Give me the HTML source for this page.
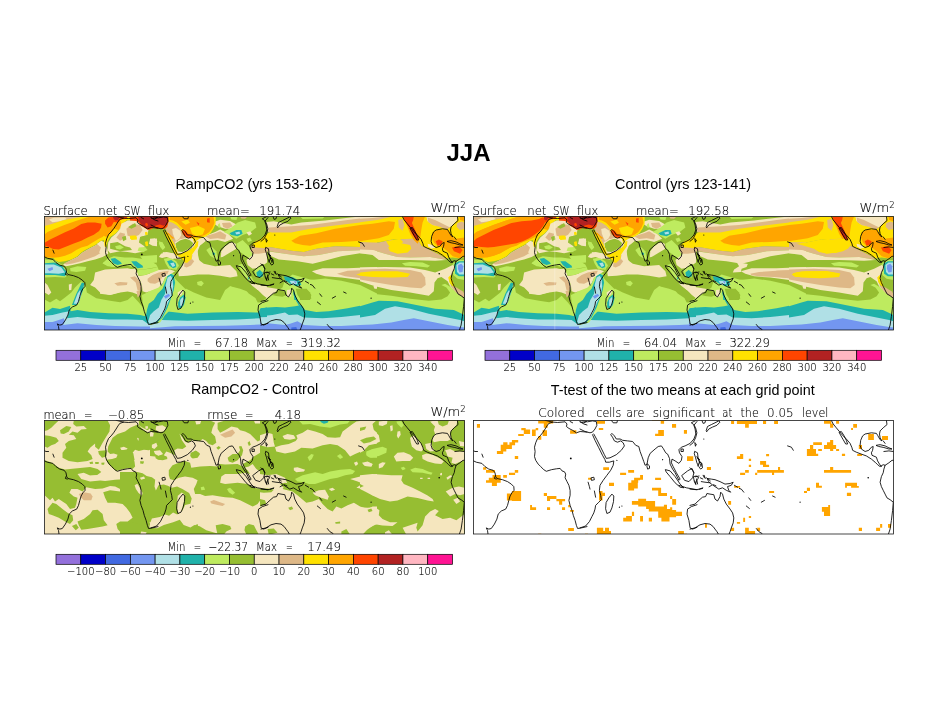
<!DOCTYPE html>
<html><head><meta charset="utf-8"><title>JJA</title>
<style>
html,body{margin:0;padding:0;background:#fff;}
body{width:935px;height:723px;overflow:hidden;position:relative;}
svg{position:absolute;left:0;top:0;}
text{font-family:"Liberation Sans",Arial,Helvetica,sans-serif;fill:#000;}
.hl{font-family:"DejaVu Sans Light","DejaVu Sans","Liberation Sans",sans-serif;font-weight:200;font-size:10px;fill:#000;stroke:#000;stroke-width:0.12px;}
.t{font-size:14.4px;}
.big{font-size:24px;font-weight:bold;}
</style></head><body>
<svg width="935" height="723" viewBox="0 0 935 723">
<rect width="935" height="723" fill="#fff"/>

<text class="big" x="468.5" y="161.3" text-anchor="middle">JJA</text>
<text class="t" x="254.2" y="189.3" text-anchor="middle">RampCO2 (yrs 153-162)</text>
<text class="t" x="683" y="189.3" text-anchor="middle">Control (yrs 123-141)</text>
<text class="t" x="254.5" y="393.5" text-anchor="middle">RampCO2 - Control</text>
<text class="t" x="682.8" y="395.2" text-anchor="middle">T-test of the two means at each grid point</text>
<g id="map1"><clipPath id="c1"><rect x="44.5" y="216.5" width="420" height="113.5"/></clipPath><g clip-path="url(#c1)"><rect x="44.5" y="216.5" width="420" height="113.5" fill="#96be32"/><path fill="#beeb5f" d="M44.6 299.4L50.0 302.6L56.3 298.8L60.0 301.3L65.0 297.6L71.3 292.6L75.0 287.5L81.3 281.3L85.7 285.7L86.9 292.6L96.3 298.2L110.1 300.7L120.1 302.3L127.6 300.1L132.6 295.7L138.9 302.6L143.9 308.8L146.4 305.1L150.1 301.9L150.1 330.7L44.6 330.7Z"/>
<path fill="#20b2aa" d="M44.6 312.6L52.5 307.8L60.0 309.1L70.0 305.7L70.7 311.3L77.5 310.1L90.1 312.0L108.8 313.2L127.6 313.8L140.1 315.1L145.1 316.3L146.4 307.6L150.1 302.6L150.1 330.7L44.6 330.7Z"/>
<path fill="#b0e0e6" d="M44.6 315.7L52.5 315.1L62.5 312.6L69.4 311.3L66.9 318.2L77.5 317.0L90.1 318.2L108.8 319.5L127.6 319.5L142.6 320.1L147.9 323.8L148.9 312.6L150.1 311.3L150.1 330.7L44.6 330.7Z"/>
<path fill="#7396f0" d="M44.6 322.0L52.5 322.0L58.8 320.1L63.8 318.2L65.0 321.3L63.2 325.1L77.5 323.2L96.3 325.1L115.1 326.1L140.1 326.6L150.1 326.6L150.1 330.7L44.6 330.7Z"/>
<path fill="#beeb5f" d="M150.0 288.8L157.5 287.5L162.5 281.3L168.8 272.5L173.8 273.8L176.3 282.5L179.4 290.1L186.3 288.8L193.8 292.6L206.3 297.6L220.1 300.1L227.6 300.1L225.1 292.6L230.1 286.3L240.1 288.8L250.1 292.6L260.1 298.8L260.1 330.7L150.0 330.7Z"/>
<path fill="#20b2aa" d="M150.0 300.1L155.0 292.6L160.0 287.5L165.0 278.8L170.0 273.8L173.8 275.0L174.4 281.3L172.5 291.3L168.8 298.8L166.3 306.3L165.6 311.3L187.5 313.8L212.6 312.6L237.6 312.0L258.9 312.6L260.1 308.8L260.1 330.7L150.0 330.7Z"/>
<path fill="#b0e0e6" d="M150.0 308.8L156.3 303.8L161.3 296.3L165.0 287.5L166.9 278.8L170.7 276.3L173.2 280.0L172.5 287.5L170.0 297.6L166.3 303.8L163.8 312.6L161.3 320.1L187.5 320.7L212.6 320.1L237.6 319.5L260.1 318.2L260.1 330.7L150.0 330.7Z"/>
<path fill="#7396f0" d="M150.0 328.2L162.5 327.3L175.0 326.3L200.1 326.1L225.1 325.7L250.1 325.1L260.1 324.5L260.1 330.7L150.0 330.7Z"/>
<path fill="#beeb5f" d="M260.0 300.1L266.3 297.6L272.5 293.8L278.8 290.1L282.5 287.5L285.0 280.0L292.5 274.4L301.3 276.9L310.1 279.4L325.1 281.3L341.4 283.2L360.1 287.5L360.1 330.7L260.0 330.7Z"/>
<path fill="#20b2aa" d="M260.0 308.8L267.5 307.6L276.3 306.9L285.0 307.6L295.0 306.3L301.3 305.1L305.1 310.1L316.3 312.0L328.8 311.3L347.6 308.2L360.1 305.7L360.1 330.7L260.0 330.7Z"/>
<path fill="#b0e0e6" d="M260.0 316.3L272.5 315.1L285.0 312.6L288.8 315.1L297.5 314.5L303.8 317.6L322.6 318.2L341.4 317.0L360.1 315.1L360.1 330.7L260.0 330.7Z"/>
<path fill="#7396f0" d="M260.0 322.6L272.5 323.8L285.0 325.1L290.0 323.8L297.5 321.3L303.8 325.1L322.6 326.1L341.4 326.1L360.1 325.1L360.1 330.7L260.0 330.7Z"/>
<path fill="#beeb5f" d="M360.0 291.9L372.5 293.8L391.3 295.7L410.1 298.8L428.8 300.7L441.4 299.4L447.6 296.3L450.1 292.6L446.4 287.5L441.4 285.0L445.1 283.8L451.4 287.5L457.6 293.8L464.5 298.8L464.5 330.7L360.0 330.7Z"/>
<path fill="#20b2aa" d="M360.0 306.3L372.5 302.6L378.8 300.7L397.5 301.3L416.3 305.1L435.1 308.8L453.9 310.1L464.5 315.1L464.5 330.7L360.0 330.7Z"/>
<path fill="#b0e0e6" d="M360.0 317.6L375.0 315.1L385.0 308.8L395.0 306.3L410.1 308.8L428.8 313.8L447.6 317.6L460.1 320.1L464.5 321.3L464.5 330.7L360.0 330.7Z"/>
<path fill="#7396f0" d="M360.0 325.1L372.5 324.5L391.3 322.6L403.8 320.1L413.8 318.2L428.8 321.3L447.6 325.1L460.1 327.0L464.5 327.6L464.5 330.7L360.0 330.7Z"/>
<path fill="#deb887" d="M44.6 216.5L92.6 216.5L77.5 221.3L58.8 226.3L44.6 230.0Z"/>
<path fill="#f5e6be" d="M48.8 219.4L53.8 217.8L65.0 217.5L66.9 219.0L60.0 221.3L52.5 222.3Z"/>
<path fill="#f5e6be" d="M62.5 265.1L71.3 260.1L77.5 256.9L82.6 252.6L90.1 248.2L96.3 245.0L101.3 240.7L105.1 242.5L107.6 250.1L108.2 253.8L102.6 256.9L95.1 259.4L87.6 261.3L80.1 263.2L72.5 265.1L66.3 266.3Z"/>
<path fill="#deb887" d="M63.8 263.6L71.3 260.1L77.5 256.9L82.6 252.6L90.1 248.2L96.3 245.0L101.3 241.3L102.6 247.5L101.3 252.6L95.1 256.3L87.6 259.1L80.1 261.6L72.5 263.6L66.3 264.6Z"/>
<path fill="#f5e6be" d="M96.9 243.8L101.6 240.7L104.8 246.3L106.1 251.9L102.6 254.8L99.1 252.6L101.0 247.5Z"/>
<path fill="#ffe100" d="M44.6 226.0L52.5 223.8L62.5 220.6L72.5 218.5L81.3 216.9L90.1 216.5L138.9 216.5L138.9 219.4L132.6 219.4L126.4 220.6L122.6 223.8L120.1 228.8L115.1 233.8L110.1 236.9L107.6 241.3L106.0 247.5L104.5 246.3L103.8 240.0L100.1 241.3L95.1 245.0L90.1 247.5L85.1 250.1L81.3 252.6L77.5 256.3L71.3 259.4L65.0 261.3L58.8 261.9L55.0 260.1L53.8 258.2L44.6 257.6Z"/>
<path fill="#ffa500" d="M44.6 234.4L47.5 231.9L55.0 228.8L65.0 224.8L75.0 221.3L82.6 218.8L90.1 216.5L115.1 216.5L120.1 220.0L121.4 225.0L118.8 230.0L113.8 228.8L112.0 231.9L108.8 235.0L106.3 236.9L103.8 235.7L102.6 236.9L98.8 238.8L92.6 242.5L87.6 245.7L81.3 247.5L76.3 250.1L71.3 253.2L65.0 255.7L58.8 257.3L52.5 257.8L44.6 256.9Z"/>
<path fill="#ff4500" d="M44.6 242.8L50.0 239.4L56.3 236.5L65.0 232.3L73.8 228.5L81.3 224.1L87.6 222.6L95.1 222.6L101.6 223.8L101.1 227.5L99.1 231.0L93.8 234.8L87.6 237.5L81.3 240.7L73.8 243.5L66.3 246.5L58.8 249.4L53.1 249.0L48.8 246.9L44.6 245.7Z"/>
<path fill="#ff4500" d="M105.1 220.6L108.2 217.5L115.1 216.5L127.6 216.5L126.4 218.8L120.1 219.8L117.6 222.5L113.8 221.9L111.3 226.3L107.6 227.5L105.1 223.8Z"/>
<path fill="#b22222" d="M113.2 216.5L120.1 216.5L118.2 220.0L115.1 220.6L113.2 218.1Z"/>
<path fill="#ff4500" d="M136.4 216.5L157.0 216.5L157.0 226.3L152.6 226.9L148.9 229.0L145.8 228.8L142.0 225.0L139.5 221.9L137.6 218.8Z"/>
<path fill="#b22222" d="M138.9 216.5L157.0 216.5L157.0 224.8L152.6 225.3L148.9 227.8L146.4 228.1L142.9 224.8L140.4 221.5L138.6 218.5Z"/>
<path fill="#ff4500" d="M144.5 224.0L147.0 222.5L148.9 225.0L147.0 226.9L145.1 226.3Z"/>
<path fill="#f5e6be" d="M121.4 223.8L127.6 220.6L138.9 220.0L143.9 226.9L148.9 229.4L147.6 235.0L140.1 236.9L138.9 242.5L144.5 246.3L144.5 251.3L135.1 253.2L127.6 251.9L120.1 251.3L110.1 253.2L107.6 250.1L108.2 242.5L111.3 237.5L116.3 233.2L120.1 228.8Z"/>
<path fill="#deb887" d="M126.4 228.8L132.6 223.8L140.1 225.0L142.6 230.0L138.9 235.0L133.9 236.9L127.6 235.7Z"/>
<path fill="#deb887" d="M120.1 232.5L125.1 233.8L123.9 238.8L120.1 240.7L116.3 237.5Z"/>
<path fill="#ffe100" d="M129.5 235.7L136.4 235.7L137.0 239.4L131.4 240.0Z"/>
<path fill="#ffe100" d="M145.1 232.5L147.6 232.5L147.4 235.0L145.4 234.8Z"/>
<path fill="#ffe100" d="M144.9 241.9L147.4 241.3L147.9 245.7L145.8 246.0Z"/>
<path fill="#96be32" d="M122.0 236.9L125.7 235.7L126.4 239.4L123.2 241.3Z"/>
<path fill="#96be32" d="M128.2 226.9L135.1 223.1L136.4 226.3L131.4 228.8Z"/>
<path fill="#96be32" d="M110.1 243.2L117.6 241.9L125.1 246.3L130.1 247.5L132.0 250.1L120.1 251.3L110.1 248.8Z"/>
<path fill="#beeb5f" d="M115.1 246.3L120.1 245.0L123.9 247.5L120.1 249.4L116.3 248.8Z"/>
<path fill="#96be32" d="M148.9 228.8L157.0 226.3L157.0 240.0L152.6 239.4L147.6 240.7L140.1 240.0L140.1 236.9L147.6 235.0Z"/>
<path fill="#f5e6be" d="M150.1 239.4L157.0 238.5L157.0 246.3L152.6 245.7L148.9 243.8Z"/>
<path fill="#beeb5f" d="M138.9 247.5L145.1 246.9L147.6 250.1L142.6 251.9L137.6 250.7Z"/>
<path fill="#beeb5f" d="M102.6 263.2L110.1 258.8L115.1 260.1L120.1 265.1L115.1 266.9L107.6 266.3Z"/>
<path fill="#20b2aa" d="M110.7 258.2L121.4 262.6L120.1 265.1L115.1 266.3L112.0 262.6Z"/>
<path fill="#20b2aa" d="M132.0 260.7L136.4 261.3L143.3 265.7L140.1 268.8L136.4 267.6Z"/>
<path fill="#beeb5f" d="M140.1 256.3L157.0 255.1L157.0 262.6L150.1 263.2L143.9 261.3Z"/>
<path fill="#f5e6be" d="M95.1 272.6L105.1 269.4L117.6 268.8L127.6 268.2L135.1 270.1L137.0 275.1L138.9 280.1L140.1 287.6L138.9 295.1L132.6 292.6L127.6 291.4L120.1 292.6L110.1 295.1L100.1 292.6L95.1 287.6L90.1 285.1L93.8 280.1Z"/>
<path fill="#deb887" d="M113.8 283.8L120.1 282.0L127.6 282.6L126.4 285.1L117.6 286.1Z"/>
<path fill="#deb887" d="M130.1 277.6L135.1 276.3L137.6 280.1L138.9 287.6L140.1 295.1L137.6 297.6L136.4 290.1L133.9 282.6Z"/>
<path fill="#f5e6be" d="M147.6 280.1L152.6 272.6L157.0 271.3L157.0 285.1L150.1 285.1Z"/>
<path fill="#deb887" d="M148.9 278.8L155.1 275.1L157.0 277.6L152.6 282.6Z"/>
<path fill="#beeb5f" d="M143.9 296.4L150.1 290.1L157.0 286.3L157.0 300.0L143.9 300.0Z"/>
<path fill="#beeb5f" d="M44.6 259.4L53.8 260.1L62.5 265.1L66.9 270.1L68.5 274.5L65.0 277.6L55.0 277.0L44.6 277.6Z"/>
<path fill="#20b2aa" d="M44.6 263.2L55.0 262.6L62.5 266.3L66.9 272.6L65.0 276.3L55.0 275.1L44.6 275.1Z"/>
<path fill="#b0e0e6" d="M44.6 264.4L53.8 264.4L61.3 267.6L65.0 272.6L58.8 273.8L50.0 273.2L44.6 273.2Z"/>
<path fill="#7396f0" d="M47.5 268.8L52.5 266.9L53.1 269.4L49.4 271.3Z"/>
<path fill="#beeb5f" d="M70.0 268.2L77.5 266.3L86.3 266.9L85.1 270.7L76.3 272.0L70.7 271.3Z"/>
<path fill="#f5e6be" d="M44.6 282.6L47.5 285.1L51.3 292.6L48.8 295.1L44.6 292.6Z"/>
<path fill="#ff4500" d="M150.0 216.5L168.8 216.5L168.8 220.0L165.6 224.4L161.9 228.1L156.9 228.8L150.0 226.3Z"/>
<path fill="#b22222" d="M150.0 216.5L165.0 216.5L167.5 218.8L165.0 222.5L161.3 226.3L157.5 227.5L153.8 225.6L150.0 225.0Z"/>
<path fill="#deb887" d="M168.8 220.6L175.0 221.3L180.0 225.6L183.2 230.7L181.9 235.0L176.9 237.8L172.5 235.0L168.8 228.8L166.3 225.0Z"/>
<path fill="#f5e6be" d="M173.8 225.6L178.8 226.9L181.3 231.3L180.0 235.0L176.9 236.3L174.4 232.5L172.5 228.8Z"/>
<path fill="#ffe100" d="M168.8 216.5L215.1 216.5L215.7 223.8L212.6 228.8L208.2 232.5L203.8 236.3L198.2 238.2L191.3 238.2L185.0 235.7L181.3 230.7L178.8 225.6L175.0 221.9L168.8 220.0Z"/>
<path fill="#ffa500" d="M168.8 216.5L213.8 216.5L214.5 222.5L211.3 227.5L206.3 230.7L202.6 234.4L197.6 236.5L191.3 236.5L186.5 234.8L182.8 230.0L180.3 225.0L175.7 221.0L170.0 219.4Z"/>
<path fill="#ffe100" d="M186.3 218.8L192.6 217.5L193.8 222.5L188.8 223.8Z"/>
<path fill="#ffe100" d="M190.1 228.8L200.1 226.3L203.8 230.0L200.1 235.0L192.6 235.0Z"/>
<path fill="#ff4500" d="M206.9 218.1L210.1 217.5L209.4 222.5L206.9 221.9Z"/>
<path fill="#ff4500" d="M196.1 221.9L199.1 223.8L197.8 225.3Z"/>
<path fill="#ff4500" d="M182.8 230.0L185.7 231.9L188.8 235.0L192.6 236.9L191.3 238.2L186.3 236.9L183.2 233.8Z"/>
<path fill="#f5e6be" d="M172.5 236.9L182.5 235.0L192.6 238.2L194.4 241.3L192.6 246.3L186.3 251.3L178.2 253.2L174.4 246.3Z"/>
<path fill="#96be32" d="M176.9 241.3L185.0 238.8L190.1 241.3L190.7 246.3L185.0 250.1L178.8 251.3L175.7 246.3Z"/>
<path fill="#ffe100" d="M164.4 230.7L167.5 231.9L171.9 240.0L175.0 247.5L178.2 253.8L186.3 252.6L192.6 246.3L195.1 240.0L193.8 238.2L191.3 243.8L186.3 250.1L180.0 253.2L176.9 252.6L174.4 246.3L171.3 238.8L168.1 233.2Z"/>
<path fill="#ffa500" d="M166.3 232.5L170.7 239.4L173.2 240.7L170.0 235.0Z"/>
<path fill="#f5e6be" d="M193.8 241.3L202.6 238.2L206.3 240.0L200.1 245.0L197.6 251.3L198.8 260.1L203.8 263.8L215.1 266.3L230.1 265.1L236.4 271.3L237.6 276.3L230.1 277.6L220.1 275.7L208.8 274.5L197.6 274.5L187.5 275.7L178.8 276.3L178.2 272.6L182.5 265.1L185.0 260.1L190.1 256.3L193.2 247.5Z"/>
<path fill="#deb887" d="M186.3 262.6L191.3 256.3L196.3 251.3L198.2 260.1L192.6 263.8L187.5 265.1Z"/>
<path fill="#ffe100" d="M176.9 253.8L186.3 252.6L190.1 256.3L187.5 260.1L185.0 263.8L183.2 260.1L180.0 257.6Z"/>
<path fill="#f5e6be" d="M202.6 236.9L215.1 231.9L220.1 229.4L227.6 233.2L233.2 238.8L225.1 241.9L217.6 240.0L210.1 240.7L206.3 241.3Z"/>
<path fill="#deb887" d="M205.1 236.3L215.1 233.2L220.1 231.3L226.3 235.0L225.1 239.4L217.6 238.2L210.1 239.0Z"/>
<path fill="#f5e6be" d="M212.6 222.5L220.1 219.8L230.1 221.0L236.4 224.4L232.6 228.8L225.1 228.8L217.6 226.3Z"/>
<path fill="#deb887" d="M222.0 223.1L230.1 222.5L232.6 226.3L227.6 228.8L223.2 226.9Z"/>
<path fill="#beeb5f" d="M217.6 225.0L219.5 223.1L220.7 226.9L218.8 228.1Z"/>
<path fill="#beeb5f" d="M206.3 250.1L211.3 246.3L216.3 251.3L218.2 260.1L215.1 258.8L210.1 255.7Z"/>
<path fill="#20b2aa" d="M212.6 251.9L215.1 253.2L214.5 255.3L212.6 254.4Z"/>
<path fill="#f5e6be" d="M221.3 251.3L225.1 246.3L231.4 241.9L235.7 243.8L236.4 248.8L230.1 252.6L223.8 256.3L220.7 257.6Z"/>
<path fill="#beeb5f" d="M223.8 231.9L231.4 227.5L237.6 222.5L245.1 220.0L255.1 222.5L256.4 227.5L250.1 232.5L242.6 235.0L236.4 238.8L230.1 235.0Z"/>
<path fill="#20b2aa" d="M229.5 233.2L236.4 230.0L241.4 230.0L242.6 233.8L237.6 236.3L231.4 235.0Z"/>
<path fill="#b0e0e6" d="M235.1 232.5L239.5 231.5L240.1 233.8L236.4 234.4Z"/>
<path fill="#beeb5f" d="M230.1 216.5L237.6 216.5L236.4 220.0L231.4 219.4Z"/>
<path fill="#f5e6be" d="M246.4 232.5L250.1 231.3L252.0 233.8L248.9 235.7Z"/>
<path fill="#beeb5f" d="M246.4 238.8L250.1 237.5L252.0 240.7L248.2 241.9Z"/>
<path fill="#deb887" d="M240.1 216.5L247.6 216.5L245.1 218.8L241.4 218.5Z"/>
<path fill="#beeb5f" d="M236.4 243.8L242.6 240.0L248.9 246.3L253.9 253.8L252.6 260.1L247.6 257.6L242.6 253.8L237.6 250.1Z"/>
<path fill="#ffe100" d="M255.1 241.3L267.0 236.9L267.0 246.3L260.1 246.9L256.4 245.0Z"/>
<path fill="#f5e6be" d="M246.4 260.1L253.9 253.8L250.1 250.1L256.4 246.3L267.0 246.9L267.0 262.6L260.1 267.6L252.6 268.8L247.6 265.1Z"/>
<path fill="#deb887" d="M250.1 250.1L256.4 246.3L267.0 246.9L267.0 252.6L258.9 253.8L252.6 253.8Z"/>
<path fill="#beeb5f" d="M253.9 270.1L262.6 263.8L265.1 268.8L262.6 277.6L256.4 276.3Z"/>
<path fill="#20b2aa" d="M256.4 272.6L260.1 269.4L262.6 272.6L260.1 277.6L257.0 276.3Z"/>
<path fill="#beeb5f" d="M237.6 265.1L242.6 263.8L248.9 272.6L253.9 281.3L250.1 282.6L243.9 275.1Z"/>
<path fill="#20b2aa" d="M247.6 277.6L249.5 277.6L248.9 280.1Z"/>
<path fill="#beeb5f" d="M220.1 300.0L225.1 290.1L230.1 286.3L240.1 290.1L250.1 295.1L267.0 300.0Z"/>
<path fill="#f5e6be" d="M252.6 283.8L267.0 286.3L267.0 292.6L257.6 290.1Z"/>
<path fill="#f5e6be" d="M162.5 251.9L176.3 253.8L181.3 259.4L172.5 258.2L165.0 255.7Z"/>
<path fill="#beeb5f" d="M165.0 260.1L172.5 258.8L178.8 265.1L176.3 270.1L168.8 267.6Z"/>
<path fill="#20b2aa" d="M166.9 261.3L171.3 260.1L176.9 265.1L175.0 268.8L170.0 266.3Z"/>
<path fill="#b0e0e6" d="M170.0 262.6L173.8 263.2L175.7 266.3L173.2 267.6Z"/>
<path fill="#f5e6be" d="M150.0 272.6L157.5 270.1L167.5 269.4L170.0 272.6L162.5 280.1L156.3 285.1L150.0 283.8Z"/>
<path fill="#deb887" d="M150.0 275.1L156.3 272.6L160.0 275.1L158.8 281.3L153.8 283.8L150.0 282.6Z"/>
<path fill="#f5e6be" d="M150.0 238.8L155.0 238.2L157.5 241.3L153.8 244.4L150.0 243.8Z"/>
<path fill="#beeb5f" d="M158.8 241.3L162.5 242.5L165.0 247.5L162.5 250.1L160.0 246.3Z"/>
<path fill="#f5e6be" d="M100.0 272.5L112.5 270.0L125.0 269.4L135.0 268.8L137.5 272.5L140.1 280.1L141.9 286.3L141.3 290.1L135.0 291.3L127.5 290.1L118.8 292.6L110.0 295.1L100.0 293.8Z"/>
<path fill="#deb887" d="M130.0 277.5L135.0 276.3L138.8 280.1L141.3 286.3L140.7 291.3L137.5 290.1L135.7 282.6Z"/>
<path fill="#deb887" d="M114.4 283.2L120.0 281.9L127.5 282.6L126.9 285.1L117.5 285.7Z"/>
<path fill="#f5e6be" d="M137.5 276.3L145.1 275.0L152.6 272.5L160.1 270.0L170.1 269.4L175.1 271.3L170.1 274.4L165.1 277.5L162.6 283.2L158.8 287.6L152.6 290.1L146.3 292.6L142.6 291.3L141.9 285.1L140.1 280.1Z"/>
<path fill="#deb887" d="M147.6 278.8L152.6 275.0L158.8 272.5L165.1 271.3L168.8 270.7L167.6 273.8L162.6 276.3L160.1 281.3L155.1 283.8L150.1 283.2L147.6 281.3Z"/>
<path fill="#beeb5f" d="M102.5 263.2L107.5 258.8L113.8 256.3L125.0 257.5L132.5 257.5L141.3 258.8L150.1 260.7L156.3 264.4L157.6 266.9L150.1 268.2L143.8 269.4L137.5 269.4L132.5 266.9L125.0 265.0L118.8 266.9L112.5 266.9L106.3 265.0Z"/>
<path fill="#20b2aa" d="M110.6 258.8L115.0 258.1L120.7 261.9L121.9 263.8L117.5 265.0L113.1 263.2Z"/>
<path fill="#20b2aa" d="M131.3 261.3L136.3 261.3L142.6 265.7L143.2 267.5L137.5 268.2L133.8 265.0Z"/>
<path fill="#beeb5f" d="M137.5 269.4L143.8 269.4L152.6 268.2L157.6 266.9L158.8 270.0L152.6 272.5L145.1 275.0L138.8 275.7L137.5 272.5Z"/>
<path fill="#beeb5f" d="M163.8 258.8L170.1 257.5L176.3 261.3L178.8 266.3L173.8 269.4L168.8 268.8L165.7 263.8Z"/>
<path fill="#20b2aa" d="M167.0 261.3L171.3 260.0L175.7 263.2L176.3 266.9L173.2 268.2L169.5 265.7Z"/>
<path fill="#b0e0e6" d="M170.1 263.2L173.8 262.5L175.1 265.7L172.6 266.9Z"/>
<path fill="#beeb5f" d="M141.9 295.1L150.1 291.3L157.6 288.8L162.6 283.8L165.1 277.5L170.1 276.3L175.1 278.8L180.1 283.8L186.4 290.1L187.6 300.1L185.1 310.1L180.1 312.0L175.1 311.3L170.1 310.1L165.1 315.1L160.1 322.6L150.1 325.1L146.9 320.1L144.4 310.1L142.6 302.6Z"/>
<path fill="#20b2aa" d="M146.9 310.1L148.8 303.8L153.8 300.1L157.6 293.8L162.6 288.8L165.1 282.6L167.6 276.3L171.3 273.8L173.8 276.3L175.1 282.6L173.8 290.1L171.3 297.6L167.6 307.6L162.6 317.6L156.3 323.2L148.8 323.9L145.7 317.6Z"/>
<path fill="#b0e0e6" d="M148.2 321.4L150.1 315.1L153.8 311.3L158.8 307.6L161.3 300.1L165.1 293.8L165.7 285.1L167.6 277.5L170.7 275.7L172.6 278.8L173.2 286.3L172.0 293.8L168.2 302.6L165.1 310.1L161.3 317.6L155.1 322.6L149.4 323.6Z"/>
<path fill="#7396f0" d="M163.8 296.3L168.8 293.8L170.1 295.7L165.7 298.8Z"/>
<path fill="#f5e6be" d="M177.6 292.6L181.4 290.1L183.6 290.7L181.4 295.1L178.2 296.3Z"/>
<path fill="#20b2aa" d="M178.2 302.6L180.1 297.6L183.9 294.4L185.7 297.6L183.9 305.1L180.7 308.8L178.2 307.6Z"/>
<path fill="#b0e0e6" d="M180.1 300.1L182.6 296.9L183.9 299.4L182.0 306.3L180.1 305.7Z"/>
<path fill="#beeb5f" d="M197.0 281.9L201.4 280.7L203.9 283.2L201.4 286.3L197.6 285.1Z"/>
<path fill="#f5e6be" d="M195.2 238.7L202.7 237.7L207.0 239.8L202.7 243.6L198.4 246.8L197.4 252.6L198.4 258.0L200.6 263.3L194.2 265.5L189.9 267.6L187.8 264.4L191.5 259.6L192.6 254.8L195.2 251.0Z"/>
<path fill="#deb887" d="M168.5 221.6L172.8 222.7L177.1 225.4L180.3 229.1L181.9 233.4L185.6 237.7L183.5 239.3L180.3 238.7L177.1 241.9L174.9 245.2L172.8 243.0L170.6 238.7L168.5 234.5L166.4 231.3L165.3 227.0L167.4 223.8Z"/>
<path fill="#f5e6be" d="M172.2 229.1L176.0 228.0L180.3 230.7L181.3 235.0L179.2 238.7L176.0 240.9L174.4 237.7L172.8 233.4Z"/>
<path fill="#f5e6be" d="M174.9 241.9L180.3 239.3L186.7 237.7L193.1 239.8L195.2 243.0L193.1 247.3L187.8 251.0L181.3 253.7L177.1 253.2L175.5 248.4Z"/>
<path fill="#96be32" d="M175.5 243.6L180.3 240.3L185.6 238.7L189.9 240.3L193.1 243.0L192.0 246.2L187.8 249.4L182.4 252.1L178.1 251.6L176.0 247.3Z"/>
<path fill="#deb887" d="M184.5 263.3L188.8 260.7L192.0 259.1L194.2 261.2L191.0 265.5L186.7 267.6L184.0 266.5Z"/>
<path fill="#ffe100" d="M168.0 216.5L215.6 216.5L215.6 223.8L213.4 229.1L210.2 233.4L205.9 236.6L199.5 238.7L196.3 240.9L194.2 244.1L193.1 238.7L187.8 237.7L183.5 233.4L180.3 229.1L177.1 225.4L172.8 222.7L168.5 221.6Z"/>
<path fill="#ffa500" d="M169.6 216.5L213.4 216.5L214.5 222.7L212.4 228.0L209.1 232.3L204.9 235.0L199.5 237.1L194.2 237.7L189.9 236.1L186.7 232.9L183.5 229.1L180.3 225.9L177.1 222.7L172.8 220.6L169.6 220.0Z"/>
<path fill="#ffe100" d="M181.3 221.6L187.8 219.5L189.9 222.7L185.6 224.8Z"/>
<path fill="#ffe100" d="M189.9 228.0L198.4 225.9L204.9 229.1L202.7 234.5L196.3 236.1L192.0 233.4Z"/>
<path fill="#ff4500" d="M207.0 218.4L209.7 217.9L209.7 222.7L207.0 222.2Z"/>
<path fill="#ff4500" d="M196.3 221.6L199.5 223.8L198.4 225.4Z"/>
<path fill="#ff4500" d="M182.4 229.6L185.6 230.7L188.3 233.9L192.0 236.1L191.0 238.2L186.7 237.7L183.5 235.0L181.9 232.3Z"/>
<path fill="#ffe100" d="M164.2 230.7L166.9 231.8L169.6 235.5L172.8 240.9L174.9 245.2L177.1 250.5L178.1 254.8L176.0 255.9L173.9 251.6L171.2 246.2L168.5 240.9L165.8 235.5Z"/>
<path fill="#ffa500" d="M166.4 232.9L169.0 235.0L172.2 238.7L174.4 238.2L171.7 236.1L168.5 232.9Z"/>
<path fill="#ffe100" d="M177.1 254.2L183.5 253.2L189.9 250.0L194.2 246.2L196.3 241.4L198.4 240.9L197.9 246.2L194.2 251.6L192.0 254.8L191.5 259.1L188.8 261.2L186.7 263.3L184.5 260.1L185.6 256.9L182.4 255.9L178.1 256.4Z"/>
<path fill="#ff4500" d="M130.0 216.5L168.5 216.5L168.7 221.1L167.2 227.0L164.4 228.9L158.9 228.0L155.7 226.8L151.4 228.9L148.2 230.0L144.4 227.8L141.2 225.7L138.6 222.5L135.9 221.1L130.0 220.6Z"/>
<path fill="#b22222" d="M138.0 216.5L167.4 216.5L168.0 220.6L166.4 224.6L163.7 225.7L159.9 224.6L155.7 225.4L151.4 227.8L148.2 228.9L145.0 227.0L141.8 224.8L139.1 221.6Z"/>
<path fill="#ff4500" d="M145.0 223.8L147.1 222.7L148.2 225.4L146.0 226.4Z"/>
<path fill="#ffe100" d="M145.0 232.3L147.1 231.8L147.6 234.5L145.5 235.0Z"/>
<path fill="#ffe100" d="M130.0 236.1L135.3 235.5L137.0 238.2L132.1 239.3L130.0 238.7Z"/>
<path fill="#ffe100" d="M145.5 241.9L147.6 241.4L148.2 245.7L146.0 246.2Z"/>
<path fill="#f5e6be" d="M161.0 253.7L166.4 252.1L172.8 253.2L177.1 256.9L172.8 259.1L166.4 256.9L162.1 258.0L158.9 256.9Z"/>
<path fill="#beeb5f" d="M158.9 243.0L162.1 241.9L165.3 247.3L163.2 249.4L160.5 247.3Z"/>
<path fill="#beeb5f" d="M300.1 216.5L325.1 216.5L322.6 218.5L302.6 219.0Z"/>
<path fill="#f5e6be" d="M266.3 221.9L273.8 221.3L291.3 224.4L301.3 222.5L325.1 220.6L350.1 217.5L360.1 216.5L377.0 216.5L377.0 222.5L360.1 223.8L335.1 226.3L310.1 230.7L291.3 232.5L272.5 233.2L267.5 231.3Z"/>
<path fill="#deb887" d="M268.8 227.5L291.3 226.3L310.1 225.0L325.1 223.1L347.6 220.0L366.4 217.8L377.0 217.5L377.0 222.5L360.1 223.8L335.1 226.3L310.1 230.7L291.3 232.8L272.5 233.5L268.1 231.9Z"/>
<path fill="#ffe100" d="M260.0 241.3L265.0 235.0L269.4 232.5L291.3 232.5L310.1 228.8L335.1 225.6L360.1 222.5L377.0 220.0L377.0 246.3L360.1 246.9L335.1 246.3L316.3 248.8L303.8 251.9L291.3 250.7L272.5 247.5L260.0 246.3Z"/>
<path fill="#ffa500" d="M291.3 240.7L300.1 235.7L316.3 233.2L335.1 228.8L360.1 225.0L377.0 223.1L377.0 240.0L360.1 240.7L341.4 241.9L322.6 242.5L310.1 245.7L302.6 245.0L295.0 243.2Z"/>
<path fill="#deb887" d="M260.0 246.3L272.5 247.5L291.3 250.7L303.8 251.9L316.3 248.8L335.1 246.3L360.1 246.9L377.0 246.3L377.0 250.1L360.1 250.3L337.6 251.3L318.8 255.1L303.8 256.3L285.0 253.8L270.0 251.3L260.0 251.3Z"/>
<path fill="#f5e6be" d="M267.5 251.3L285.0 253.8L303.8 256.3L318.8 255.1L337.6 251.3L360.1 250.3L377.0 250.1L377.0 253.8L360.1 253.2L341.4 256.3L322.6 261.3L312.6 263.8L297.5 261.3L278.8 259.4L271.3 256.3Z"/>
<path fill="#f5e6be" d="M311.9 271.3L322.6 268.2L347.6 268.2L377.0 266.9L377.0 283.8L360.1 280.1L341.4 277.6L325.1 276.3L316.3 273.8Z"/>
<path fill="#deb887" d="M337.0 273.8L347.6 270.7L377.0 269.4L377.0 280.1L360.1 278.2L345.1 276.3Z"/>
<path fill="#ffe100" d="M356.4 274.5L363.9 272.0L377.0 271.1L377.0 277.0L363.9 277.0Z"/>
<path fill="#beeb5f" d="M295.0 285.1L303.8 280.7L325.1 278.6L341.4 280.7L360.1 285.1L377.0 293.6L377.0 300.0L295.0 300.0Z"/>
<path fill="#96be32" d="M298.8 291.4L306.3 288.8L311.3 295.1L310.1 300.0L300.1 300.0Z"/>
<path fill="#f5e6be" d="M373.3 286.3L377.0 285.1L377.0 288.8L374.5 288.8Z"/>
<path fill="#20b2aa" d="M283.8 276.3L292.5 277.0L300.1 281.3L301.3 285.1L296.3 286.3L290.0 283.8L285.0 280.1Z"/>
<path fill="#b0e0e6" d="M289.4 280.7L296.3 280.7L297.5 283.8L292.5 285.1Z"/>
<path fill="#7396f0" d="M293.8 281.3L296.3 281.6L295.7 283.8Z"/>
<path fill="#20b2aa" d="M260.0 270.1L262.5 271.3L263.1 276.3L260.0 277.6Z"/>
<path fill="#beeb5f" d="M260.0 265.1L263.8 263.8L265.0 270.1L262.5 272.6L260.0 270.1Z"/>
<path fill="#beeb5f" d="M272.5 300.0L277.5 292.6L285.0 290.1L292.5 290.1L295.0 300.0Z"/>
<path fill="#f5e6be" d="M286.9 290.1L290.7 289.5L290.0 296.4L286.9 296.4Z"/>
<path fill="#20b2aa" d="M293.8 295.1L295.7 296.4L296.3 300.0L294.4 300.0Z"/>
<path fill="#deb887" d="M360.0 241.9L378.8 242.5L392.5 239.4L397.5 241.3L420.1 246.3L430.1 250.1L440.1 255.1L447.6 259.4L440.1 258.8L430.1 256.9L410.1 257.6L397.5 256.9L385.0 253.8L372.5 250.1L360.0 249.4Z"/>
<path fill="#f5e6be" d="M360.0 249.4L372.5 250.1L385.0 253.8L397.5 256.9L410.1 257.6L430.1 256.9L440.1 258.8L446.4 260.1L435.1 260.7L410.1 260.1L391.3 260.1L378.8 260.1L372.5 255.1L360.0 253.2Z"/>
<path fill="#ffe100" d="M360.0 216.5L464.5 216.5L464.5 256.9L458.9 258.2L452.6 257.6L446.4 258.2L440.1 254.4L430.1 249.4L421.3 245.7L418.8 241.3L415.1 238.8L401.3 239.4L392.5 239.4L378.8 242.3L360.0 241.9Z"/>
<path fill="#deb887" d="M397.5 239.4L415.1 238.5L418.8 241.3L421.3 245.7L430.1 249.4L425.1 250.1L412.6 246.3L401.3 243.8Z"/>
<path fill="#deb887" d="M360.0 216.5L392.5 216.5L378.8 219.8L360.0 222.3Z"/>
<path fill="#f5e6be" d="M360.0 216.5L386.3 216.5L372.5 217.9L360.0 218.8Z"/>
<path fill="#ffe100" d="M388.2 247.5L392.5 243.8L401.3 243.2L410.1 245.0L411.3 248.8L407.6 252.6L397.5 253.8L390.0 251.3Z"/>
<path fill="#deb887" d="M398.2 220.0L402.6 218.8L404.4 225.0L402.6 230.7L398.8 227.5Z"/>
<path fill="#ffa500" d="M360.0 225.0L372.5 223.8L388.8 221.3L395.0 221.9L393.8 228.8L388.8 235.0L378.8 238.2L367.5 240.0L360.0 241.3Z"/>
<path fill="#ffa500" d="M402.6 216.5L425.1 216.5L422.6 222.5L421.3 230.0L420.1 238.8L417.6 243.8L413.8 240.0L410.1 233.8L407.6 227.5L405.1 221.3Z"/>
<path fill="#ff4500" d="M403.2 216.5L413.8 216.5L413.2 220.0L411.9 223.1L415.7 231.3L418.6 238.8L416.9 240.7L412.6 235.0L408.8 227.5L405.1 221.3Z"/>
<path fill="#b22222" d="M411.1 226.9L412.6 227.3L417.8 239.0L416.7 239.5L412.6 233.2Z"/>
<path fill="#f5e6be" d="M426.3 216.5L458.9 216.5L456.4 221.3L451.4 226.3L446.4 228.8L440.1 226.3L432.6 225.0L427.6 221.3Z"/>
<path fill="#deb887" d="M427.6 217.5L435.1 220.0L445.1 225.0L450.1 227.5L446.4 229.4L440.1 226.9L432.6 225.0L428.2 221.9Z"/>
<path fill="#ffa500" d="M432.6 232.5L437.6 230.0L447.6 229.4L451.4 235.0L455.1 238.8L464.5 237.5L464.5 256.3L458.9 258.2L452.6 256.3L447.6 251.3L442.6 247.5L437.6 246.3L433.8 242.5L432.0 237.5Z"/>
<path fill="#ff4500" d="M435.7 241.3L438.8 239.4L442.6 241.3L441.4 244.4L437.6 245.7Z"/>
<path fill="#ff4500" d="M452.0 247.5L458.9 246.3L462.6 250.1L460.1 253.8L453.9 251.3Z"/>
<path fill="#ffe100" d="M458.2 216.5L464.5 216.5L464.5 225.0L460.1 227.5L456.4 225.0L457.0 221.3Z"/>
<path fill="#ffa500" d="M459.5 216.5L464.5 216.5L464.5 221.3L460.1 220.0Z"/>
<path fill="#f5e6be" d="M427.6 243.8L432.6 245.0L435.1 247.5L431.3 248.8L428.2 246.3Z"/>
<path fill="#beeb5f" d="M401.9 263.2L410.1 261.9L422.6 262.6L430.1 265.7L427.6 267.6L416.3 266.3L405.1 265.7Z"/>
<path fill="#beeb5f" d="M452.6 263.8L458.9 260.1L464.5 260.1L464.5 280.1L457.6 278.8L453.2 275.1Z"/>
<path fill="#20b2aa" d="M454.5 263.8L458.9 261.3L464.5 261.3L464.5 276.3L458.9 276.3L455.1 273.8Z"/>
<path fill="#b0e0e6" d="M456.4 265.1L459.5 262.6L464.5 262.6L464.5 274.5L459.5 274.5L457.0 272.0Z"/>
<path fill="#7396f0" d="M458.2 265.1L461.4 263.8L463.3 266.3L462.6 272.0L459.5 272.6L457.9 268.8Z"/>
<path fill="#ffe100" d="M386.0 241.3L399.9 238.8L403.2 242.0L398.9 245.6L389.3 246.6Z"/>
<path fill="#deb887" d="M457.2 223.1L462.0 221.5L464.1 222.6L464.1 229.0L459.8 230.0L456.6 226.8Z"/>
<path fill="#deb887" d="M250.3 246.1L255.6 243.9L268.4 246.1L270.6 250.4L259.9 250.9L252.4 249.8Z"/>
<path fill="#ffe100" d="M251.3 245.2L255.6 242.0L264.2 238.4L268.4 233.3L271.1 232.2L271.1 246.6L264.2 248.0L255.6 247.4Z"/>
<path fill="#96be32" d="M248.7 283.4L252.5 286.0L258.4 290.5L262.9 295.0L266.7 298.0L259.9 302.5L257.7 302.5L255.4 298.0L248.7 293.5L245.0 289.0Z"/>
<path fill="#f5e6be" d="M249.5 283.0L254.7 284.5L265.9 287.1L277.9 289.0L274.9 292.7L268.9 296.5L266.7 298.0L262.9 295.0L258.4 290.5L252.5 286.0Z"/>
<path fill="#96be32" d="M271.9 295.0L274.9 292.7L277.9 289.4L283.9 291.2L286.9 295.0L282.4 296.8L276.4 296.1Z"/>
<path fill="#f5e6be" d="M68.8 284.4L71.9 283.8L71.3 290.1L69.0 290.3Z"/>
<path fill="#20b2aa" d="M71.9 305.1L76.3 293.8L81.9 282.5L84.4 283.2L82.6 291.3L78.8 302.6L76.3 305.1Z"/>
<path fill="#b0e0e6" d="M73.8 303.8L77.5 293.8L80.1 290.1L81.3 293.8L78.2 303.8Z"/>
<path fill="#20b2aa" d="M258.9 312.6L260.8 308.2L267.0 307.6L267.0 317.6L260.1 317.6Z"/>
<path fill="#b0e0e6" d="M260.1 317.6L267.0 317.0L267.0 325.1L261.4 324.5Z"/>
<path fill="#96be32" d="M295.7 288.8L306.3 288.8L310.1 292.6L311.3 298.8L301.3 300.1L297.5 295.1Z"/>
<path fill="#f5e6be" d="M286.9 291.3L290.7 290.1L291.3 296.3L288.2 296.9Z"/>
<path fill="#20b2aa" d="M293.8 290.1L296.3 297.6L300.1 305.1L302.6 308.8L300.1 307.6L296.3 301.3L293.2 293.8Z"/>
<path fill="#4169e1" d="M291.3 327.6L296.3 327.0L297.5 330.7L291.3 330.7Z"/>
<path fill="#f5e6be" d="M360.0 267.5L385.0 266.9L410.1 267.5L425.1 270.0L435.1 272.5L445.1 268.8L452.6 265.0L455.1 267.5L451.4 275.0L448.9 280.0L451.4 286.3L455.1 290.1L460.1 292.6L464.5 293.8L464.5 297.6L461.4 296.3L455.1 291.3L450.1 286.3L447.6 281.3L441.4 276.9L437.6 278.2L434.5 282.5L433.8 291.3L428.8 295.7L410.1 292.6L391.3 290.1L375.0 286.3L360.0 281.3Z"/>
<path fill="#deb887" d="M360.0 269.4L385.0 268.8L410.1 270.0L421.3 272.5L425.1 277.5L425.7 285.0L421.3 288.2L410.1 287.5L391.3 285.0L376.3 282.5L360.0 279.4Z"/>
<path fill="#ffe100" d="M360.0 272.5L372.5 271.3L397.5 271.3L410.1 273.8L407.6 276.9L391.3 277.5L372.5 276.9L360.0 275.7Z"/>
<path fill="#ffe100" d="M448.2 277.5L450.7 275.0L453.2 282.5L455.1 287.5L452.6 286.3L449.5 282.5Z"/>
<path fill="#deb887" d="M450.1 285.0L456.4 287.5L462.6 291.3L464.5 293.8L464.5 297.6L458.9 295.1L453.9 290.1Z"/>
<path fill="none" stroke="#000" stroke-width="0.85" stroke-linejoin="round" stroke-linecap="round" d="M43.3 256.3L47.3 258.2L52.9 259.4L56.0 262.6L59.8 265.1L64.2 266.3L66.0 268.8L66.7 272.6L67.9 274.5L73.5 275.7L78.5 277.6L82.3 280.1L84.8 282.6L85.1 286.3L82.9 288.8L81.1 292.0L79.8 296.4L78.5 301.4L76.7 305.1L72.3 307.0L69.2 310.1L67.9 315.1L65.4 320.1L62.3 324.5L59.8 325.1L57.3 323.9L58.5 326.4L59.1 330.8 M66.0 272.6L65.4 274.5L67.3 275.1 M43.5 246.3L46.0 247.5L48.5 247.5 M52.9 250.1L54.1 253.2 M116.1 216.3L121.1 217.5L123.6 218.1L119.8 219.4L118.0 221.9L116.1 225.0L113.6 228.8L111.1 231.9L108.6 234.4L106.7 238.8L105.5 243.2L106.1 247.5L105.5 252.6L106.7 256.3L109.2 260.1L111.7 262.6L114.8 265.7L117.3 267.3L122.4 265.7L127.4 264.8L131.1 264.4L133.0 266.9L135.5 267.8L136.7 270.1L136.1 273.8L138.0 277.6L139.9 281.3L141.1 286.3L141.1 291.4L139.9 296.4L141.1 301.4L143.0 306.4L144.3 311.4L146.1 316.4L147.4 321.4L148.6 324.5L152.4 323.9L158.0 322.6 M123.6 218.1L128.6 218.5L136.1 217.8L138.0 220.0L137.4 222.5L139.9 224.4L143.6 226.3L147.4 228.8L151.1 227.5L158.0 228.1 M141.1 217.5L143.6 218.8 M151.1 217.8L154.9 220.0L158.0 221.0 M151.0 225.0L156.0 227.5L161.0 228.8L163.5 228.1L166.0 225.0L167.9 221.3L167.3 217.5L163.5 216.9L158.5 217.8L153.5 216.9 M163.5 230.7L166.0 236.3L169.8 243.8L173.5 251.3L176.0 255.7L176.7 258.2L180.4 258.2L184.8 256.9L184.2 261.3L181.7 266.3L177.9 271.3L174.2 276.3L171.0 281.3L170.4 286.3L171.7 291.4L172.3 295.7L169.8 298.2L166.6 301.4L166.0 305.1L164.8 308.9L162.9 312.6L160.4 317.6L156.6 322.0L151.0 323.9 M164.8 230.0L167.9 235.7L171.7 243.2L175.4 250.7L177.3 254.4L181.0 253.8L187.3 250.7L192.3 246.3L195.4 241.9L194.2 238.8L191.7 236.9L188.5 238.2L185.4 236.9L183.5 233.2L181.7 230.7L182.9 229.4L185.4 231.9L187.3 235.0L191.1 235.0L193.6 236.3L198.6 236.9L203.6 237.5L206.7 241.3L209.8 242.5L211.1 247.5L213.0 252.6L214.8 257.6L216.1 261.3L218.0 260.1L219.2 253.8L221.1 249.4L226.1 245.0L229.2 242.5L232.4 241.9L234.2 244.4L236.7 248.8L238.6 250.1L240.5 254.4L241.1 260.1L243.6 265.1L246.1 268.8L248.0 272.6L249.9 276.3L251.1 275.1L247.4 268.8L244.2 262.6L242.4 258.8L243.0 255.1L246.1 256.9L249.9 259.4L252.4 256.3L253.0 252.6L250.5 248.8L249.9 245.7L252.4 243.2L256.1 241.9L261.1 239.4L264.9 235.0L266.8 230.0L266.1 225.0L264.9 221.3L268.0 217.5 M218.6 260.1L220.5 261.9L220.5 264.4L218.6 265.1L218.0 262.6Z M236.7 265.7L241.1 266.9L246.1 272.6L251.1 280.1L254.9 283.8L251.1 283.2L246.1 278.8L241.1 272.6L237.4 268.2Z M249.9 281.3L257.4 283.8L268.0 285.7 M253.0 271.3L258.6 266.9L263.0 264.4L264.9 268.8L263.6 273.8L259.9 277.6L255.5 276.3L253.6 273.2Z M252.4 245.0L254.3 245.0L254.3 247.5L252.4 247.5Z M177.3 298.2L179.8 293.9L182.9 290.1L184.8 292.0L184.5 297.6L182.9 303.9L181.0 308.2L177.9 309.5L176.7 305.1Z M162.3 273.8L164.8 273.2L165.4 275.7L162.9 276.3Z M159.1 278.2L160.4 282.6L161.0 285.1 M165.4 287.0L166.6 293.2 M182.3 216.3L184.2 218.8L187.9 218.8L188.5 216.3 M151.0 217.8L154.8 218.8L157.3 217.8 M268.0 300.7L262.4 302.6L258.6 305.1L258.0 310.1L259.9 316.4L261.1 323.9L263.6 325.1L268.0 323.3 M261.0 241.3L264.1 238.8L266.6 233.8L267.9 228.8L266.6 223.8L264.8 220.6L262.3 218.8L264.8 217.5L267.3 216.3 M272.9 216.3L274.1 219.4L276.0 218.8L276.6 216.3 M277.3 226.3L278.5 222.5L282.3 220.6L286.0 218.8L289.8 216.9L291.0 218.1L287.9 221.3L283.5 223.1L279.8 225.0L277.9 227.5Z M266.0 238.8L267.3 240.0L266.6 241.9Z M266.0 247.5L268.5 248.8L269.1 253.8L270.4 257.6L272.9 259.4L273.5 263.8L271.6 265.1L269.8 262.6L267.9 258.8L266.6 253.8L265.4 250.1Z M267.9 252.6L269.8 256.3L271.6 261.3 M261.0 263.8L263.5 266.3L264.8 268.8 M264.8 272.6L267.3 272.0L269.8 273.8L267.9 275.7L266.6 280.1L265.4 277.6Z M272.3 277.6L276.0 278.2L281.0 278.8 M274.1 271.3L275.4 273.8 M278.5 274.5L282.3 275.1L286.0 275.7L291.0 277.6L296.0 280.1L301.1 279.5L304.2 278.2L302.3 281.3L298.5 282.6L299.8 286.3L301.7 288.2L297.3 286.3L293.5 283.8L289.8 285.1L286.0 282.6L282.3 280.1L279.8 277.6Z M305.4 281.3L308.6 283.2 M310.4 284.5L312.3 285.1L314.8 288.2 M261.0 285.1L267.3 285.7L273.5 284.5 M261.0 301.4L266.0 300.1L269.1 297.0L273.5 293.2L276.6 292.6L277.9 289.5L281.0 290.1L284.8 290.7L286.0 295.1L288.5 297.0L291.0 292.6L291.7 288.2L293.5 290.1L294.8 295.1L297.3 300.1L301.1 305.1L303.6 308.9L304.8 313.9L304.2 318.9L302.3 323.9L301.1 327.6L299.8 330.8 M261.0 325.1L266.0 323.9L271.0 320.8L276.0 319.5L281.0 320.1L284.2 322.6L286.0 325.1L287.9 327.6L289.8 330.8 M358.6 241.9L362.4 243.2L364.3 246.3 M319.8 293.9L321.7 296.4 M332.3 298.2L335.5 296.4 M343.6 292.0L346.1 293.2 M317.3 302.0L320.4 304.5 M327.3 324.5L329.8 327.6L333.0 329.5 M402.3 216.3L404.2 220.0L407.3 223.8L410.4 227.5L413.6 231.3L417.3 235.0L421.1 239.4L423.0 243.8L423.6 246.3L427.3 248.2L432.3 250.1L437.3 251.9L442.4 255.1L446.1 258.2L448.6 260.7L451.1 262.6L454.2 260.7L456.1 261.3L454.9 265.1L454.2 268.8L452.4 272.6L451.1 278.2L452.4 282.6L454.2 286.3L456.1 290.1L458.0 293.9L461.1 295.7L464.3 298.2L463.6 306.4L462.4 316.4L461.1 325.1L459.2 330.8 M410.4 228.1L412.3 227.5L414.8 231.3L417.3 236.3L418.6 240.0L416.7 240.0L414.2 235.7L411.7 231.3Z M457.4 216.3L458.0 220.6L454.2 223.8L451.1 226.9L450.5 230.0L451.1 233.8L453.0 236.9L451.1 235.7L448.6 231.3L447.4 229.4L442.4 228.8L436.1 230.0L433.6 231.9L431.7 236.3L431.1 241.3L432.3 245.0L436.1 247.5L439.8 246.3L442.4 243.2L444.2 242.5L443.6 246.3L442.4 248.8L443.0 251.3L447.4 253.2L448.6 256.9L450.5 260.1L452.4 262.6 M456.1 261.3L459.9 258.8L463.0 256.3L464.6 256.3 M447.4 241.3L451.1 240.7L456.1 241.9L459.9 243.8L463.0 245.0L459.9 245.0L454.9 243.5L449.9 242.5Z M454.9 247.5L459.9 246.9L464.3 247.5 M454.2 236.9L456.1 239.4 M266.3 272.8L270.1 272.0 M267.6 275.0L268.6 280.0 M271.3 273.8L273.8 275.0 M275.1 271.3L276.3 274.4 M277.6 273.8L281.3 276.9 M280.1 282.8L282.6 281.3 M270.1 285.3L273.8 283.8 M284.5 280.7L287.0 281.9 M265.7 276.9L266.9 280.7 M268.8 261.9L270.7 257.5L272.6 259.4L271.9 262.5 M268.2 253.8L270.7 255.6"/><circle cx="141.8" cy="254.4" r="0.9" fill="#000"/><circle cx="187.9" cy="256.3" r="0.6" fill="#000"/><circle cx="233.6" cy="255.7" r="0.6" fill="#000"/><circle cx="190.4" cy="303.2" r="0.6" fill="#000"/><circle cx="192.9" cy="302.0" r="0.6" fill="#000"/><circle cx="274.8" cy="235.0" r="0.6" fill="#000"/><circle cx="371.1" cy="298.2" r="0.6" fill="#000"/><circle cx="439.2" cy="273.8" r="0.8" fill="#000"/></g></g>
<g id="map2"><clipPath id="c2"><rect x="473.5" y="216.5" width="420" height="113.5"/></clipPath><g clip-path="url(#c2)"><rect x="473.5" y="216.5" width="420" height="113.5" fill="#96be32"/><path fill="#beeb5f" d="M473.6 299.4L479.0 302.6L485.3 298.8L489.0 301.3L494.0 297.6L500.3 292.6L504.0 287.5L510.3 281.3L514.7 285.7L515.9 292.6L525.3 298.2L539.1 300.7L549.1 302.3L556.6 300.1L561.6 295.7L567.9 302.6L572.9 308.8L575.4 305.1L579.1 301.9L579.1 330.7L473.6 330.7Z"/>
<path fill="#20b2aa" d="M473.6 312.6L481.5 307.8L489.0 309.1L499.0 305.7L499.7 311.3L506.5 310.1L519.1 312.0L537.8 313.2L556.6 313.8L569.1 315.1L574.1 316.3L575.4 307.6L579.1 302.6L579.1 330.7L473.6 330.7Z"/>
<path fill="#b0e0e6" d="M473.6 315.7L481.5 315.1L491.5 312.6L498.4 311.3L495.9 318.2L506.5 317.0L519.1 318.2L537.8 319.5L556.6 319.5L571.6 320.1L576.9 323.8L577.9 312.6L579.1 311.3L579.1 330.7L473.6 330.7Z"/>
<path fill="#7396f0" d="M473.6 322.0L481.5 322.0L487.8 320.1L492.8 318.2L494.0 321.3L492.2 325.1L506.5 323.2L525.3 325.1L544.1 326.1L569.1 326.6L579.1 326.6L579.1 330.7L473.6 330.7Z"/>
<path fill="#beeb5f" d="M579.0 288.8L586.5 287.5L591.5 281.3L597.8 272.5L602.8 273.8L605.3 282.5L608.4 290.1L615.3 288.8L622.8 292.6L635.3 297.6L649.1 300.1L656.6 300.1L654.1 292.6L659.1 286.3L669.1 288.8L679.1 292.6L689.1 298.8L689.1 330.7L579.0 330.7Z"/>
<path fill="#20b2aa" d="M579.0 300.1L584.0 292.6L589.0 287.5L594.0 278.8L599.0 273.8L602.8 275.0L603.4 281.3L601.5 291.3L597.8 298.8L595.3 306.3L594.6 311.3L616.5 313.8L641.6 312.6L666.6 312.0L687.9 312.6L689.1 308.8L689.1 330.7L579.0 330.7Z"/>
<path fill="#b0e0e6" d="M579.0 308.8L585.3 303.8L590.3 296.3L594.0 287.5L595.9 278.8L599.7 276.3L602.2 280.0L601.5 287.5L599.0 297.6L595.3 303.8L592.8 312.6L590.3 320.1L616.5 320.7L641.6 320.1L666.6 319.5L689.1 318.2L689.1 330.7L579.0 330.7Z"/>
<path fill="#7396f0" d="M579.0 328.2L591.5 327.3L604.0 326.3L629.1 326.1L654.1 325.7L679.1 325.1L689.1 324.5L689.1 330.7L579.0 330.7Z"/>
<path fill="#beeb5f" d="M689.0 300.1L695.3 297.6L701.5 293.8L707.8 290.1L711.5 287.5L714.0 280.0L721.5 274.4L730.3 276.9L739.1 279.4L754.1 281.3L770.4 283.2L789.1 287.5L789.1 330.7L689.0 330.7Z"/>
<path fill="#20b2aa" d="M689.0 308.8L696.5 307.6L705.3 306.9L714.0 307.6L724.0 306.3L730.3 305.1L734.1 310.1L745.3 312.0L757.8 311.3L776.6 308.2L789.1 305.7L789.1 330.7L689.0 330.7Z"/>
<path fill="#b0e0e6" d="M689.0 316.3L701.5 315.1L714.0 312.6L717.8 315.1L726.5 314.5L732.8 317.6L751.6 318.2L770.4 317.0L789.1 315.1L789.1 330.7L689.0 330.7Z"/>
<path fill="#7396f0" d="M689.0 322.6L701.5 323.8L714.0 325.1L719.0 323.8L726.5 321.3L732.8 325.1L751.6 326.1L770.4 326.1L789.1 325.1L789.1 330.7L689.0 330.7Z"/>
<path fill="#beeb5f" d="M789.0 291.9L801.5 293.8L820.3 295.7L839.1 298.8L857.8 300.7L870.4 299.4L876.6 296.3L879.1 292.6L875.4 287.5L870.4 285.0L874.1 283.8L880.4 287.5L886.6 293.8L893.5 298.8L893.5 330.7L789.0 330.7Z"/>
<path fill="#20b2aa" d="M789.0 306.3L801.5 302.6L807.8 300.7L826.5 301.3L845.3 305.1L864.1 308.8L882.9 310.1L893.5 315.1L893.5 330.7L789.0 330.7Z"/>
<path fill="#b0e0e6" d="M789.0 317.6L804.0 315.1L814.0 308.8L824.0 306.3L839.1 308.8L857.8 313.8L876.6 317.6L889.1 320.1L893.5 321.3L893.5 330.7L789.0 330.7Z"/>
<path fill="#7396f0" d="M789.0 325.1L801.5 324.5L820.3 322.6L832.8 320.1L842.8 318.2L857.8 321.3L876.6 325.1L889.1 327.0L893.5 327.6L893.5 330.7L789.0 330.7Z"/>
<path fill="#deb887" d="M473.6 216.5L521.6 216.5L506.5 221.3L487.8 226.3L473.6 230.0Z"/>
<path fill="#f5e6be" d="M477.8 219.4L482.8 217.8L494.0 217.5L495.9 219.0L489.0 221.3L481.5 222.3Z"/>
<path fill="#f5e6be" d="M491.5 265.1L500.3 260.1L506.5 256.9L511.6 252.6L519.1 248.2L525.3 245.0L530.3 240.7L534.1 242.5L536.6 250.1L537.2 253.8L531.6 256.9L524.1 259.4L516.6 261.3L509.1 263.2L501.5 265.1L495.3 266.3Z"/>
<path fill="#deb887" d="M492.8 263.6L500.3 260.1L506.5 256.9L511.6 252.6L519.1 248.2L525.3 245.0L530.3 241.3L531.6 247.5L530.3 252.6L524.1 256.3L516.6 259.1L509.1 261.6L501.5 263.6L495.3 264.6Z"/>
<path fill="#f5e6be" d="M525.9 243.8L530.6 240.7L533.8 246.3L535.1 251.9L531.6 254.8L528.1 252.6L530.0 247.5Z"/>
<path fill="#ffe100" d="M473.6 226.0L481.5 223.8L491.5 220.6L501.5 218.5L510.3 216.9L519.1 216.5L567.9 216.5L567.9 219.4L561.6 219.4L555.4 220.6L551.6 223.8L549.1 228.8L544.1 233.8L539.1 236.9L536.6 241.3L535.0 247.5L533.5 246.3L532.8 240.0L529.1 241.3L524.1 245.0L519.1 247.5L514.1 250.1L510.3 252.6L506.5 256.3L500.3 259.4L494.0 261.3L487.8 261.9L484.0 260.1L482.8 258.2L473.6 257.6Z"/>
<path fill="#ffa500" d="M473.6 234.4L476.5 231.9L484.0 228.8L494.0 224.8L504.0 221.3L511.6 218.8L519.1 216.5L544.1 216.5L549.1 220.0L550.4 225.0L547.8 230.0L542.8 228.8L541.0 231.9L537.8 235.0L535.3 236.9L532.8 235.7L531.6 236.9L527.8 238.8L521.6 242.5L516.6 245.7L510.3 247.5L505.3 250.1L500.3 253.2L494.0 255.7L487.8 257.3L481.5 257.8L473.6 256.9Z"/>
<path fill="#ff4500" d="M473.6 242.8L479.0 239.4L485.3 236.5L494.0 232.3L502.8 228.5L510.3 224.1L516.6 222.6L524.1 222.6L530.6 223.8L530.1 227.5L528.1 231.0L522.8 234.8L516.6 237.5L510.3 240.7L502.8 243.5L495.3 246.5L487.8 249.4L482.1 249.0L477.8 246.9L473.6 245.7Z"/>
<path fill="#ff4500" d="M534.1 220.6L537.2 217.5L544.1 216.5L556.6 216.5L555.4 218.8L549.1 219.8L546.6 222.5L542.8 221.9L540.3 226.3L536.6 227.5L534.1 223.8Z"/>
<path fill="#b22222" d="M542.2 216.5L549.1 216.5L547.2 220.0L544.1 220.6L542.2 218.1Z"/>
<path fill="#ff4500" d="M565.4 216.5L586.0 216.5L586.0 226.3L581.6 226.9L577.9 229.0L574.8 228.8L571.0 225.0L568.5 221.9L566.6 218.8Z"/>
<path fill="#b22222" d="M567.9 216.5L586.0 216.5L586.0 224.8L581.6 225.3L577.9 227.8L575.4 228.1L571.9 224.8L569.4 221.5L567.6 218.5Z"/>
<path fill="#ff4500" d="M573.5 224.0L576.0 222.5L577.9 225.0L576.0 226.9L574.1 226.3Z"/>
<path fill="#f5e6be" d="M550.4 223.8L556.6 220.6L567.9 220.0L572.9 226.9L577.9 229.4L576.6 235.0L569.1 236.9L567.9 242.5L573.5 246.3L573.5 251.3L564.1 253.2L556.6 251.9L549.1 251.3L539.1 253.2L536.6 250.1L537.2 242.5L540.3 237.5L545.3 233.2L549.1 228.8Z"/>
<path fill="#deb887" d="M555.4 228.8L561.6 223.8L569.1 225.0L571.6 230.0L567.9 235.0L562.9 236.9L556.6 235.7Z"/>
<path fill="#deb887" d="M549.1 232.5L554.1 233.8L552.9 238.8L549.1 240.7L545.3 237.5Z"/>
<path fill="#ffe100" d="M558.5 235.7L565.4 235.7L566.0 239.4L560.4 240.0Z"/>
<path fill="#ffe100" d="M574.1 232.5L576.6 232.5L576.4 235.0L574.4 234.8Z"/>
<path fill="#ffe100" d="M573.9 241.9L576.4 241.3L576.9 245.7L574.8 246.0Z"/>
<path fill="#96be32" d="M551.0 236.9L554.7 235.7L555.4 239.4L552.2 241.3Z"/>
<path fill="#96be32" d="M557.2 226.9L564.1 223.1L565.4 226.3L560.4 228.8Z"/>
<path fill="#96be32" d="M539.1 243.2L546.6 241.9L554.1 246.3L559.1 247.5L561.0 250.1L549.1 251.3L539.1 248.8Z"/>
<path fill="#beeb5f" d="M544.1 246.3L549.1 245.0L552.9 247.5L549.1 249.4L545.3 248.8Z"/>
<path fill="#96be32" d="M577.9 228.8L586.0 226.3L586.0 240.0L581.6 239.4L576.6 240.7L569.1 240.0L569.1 236.9L576.6 235.0Z"/>
<path fill="#f5e6be" d="M579.1 239.4L586.0 238.5L586.0 246.3L581.6 245.7L577.9 243.8Z"/>
<path fill="#beeb5f" d="M567.9 247.5L574.1 246.9L576.6 250.1L571.6 251.9L566.6 250.7Z"/>
<path fill="#beeb5f" d="M531.6 263.2L539.1 258.8L544.1 260.1L549.1 265.1L544.1 266.9L536.6 266.3Z"/>
<path fill="#20b2aa" d="M539.7 258.2L550.4 262.6L549.1 265.1L544.1 266.3L541.0 262.6Z"/>
<path fill="#20b2aa" d="M561.0 260.7L565.4 261.3L572.3 265.7L569.1 268.8L565.4 267.6Z"/>
<path fill="#beeb5f" d="M569.1 256.3L586.0 255.1L586.0 262.6L579.1 263.2L572.9 261.3Z"/>
<path fill="#f5e6be" d="M524.1 272.6L534.1 269.4L546.6 268.8L556.6 268.2L564.1 270.1L566.0 275.1L567.9 280.1L569.1 287.6L567.9 295.1L561.6 292.6L556.6 291.4L549.1 292.6L539.1 295.1L529.1 292.6L524.1 287.6L519.1 285.1L522.8 280.1Z"/>
<path fill="#deb887" d="M542.8 283.8L549.1 282.0L556.6 282.6L555.4 285.1L546.6 286.1Z"/>
<path fill="#deb887" d="M559.1 277.6L564.1 276.3L566.6 280.1L567.9 287.6L569.1 295.1L566.6 297.6L565.4 290.1L562.9 282.6Z"/>
<path fill="#f5e6be" d="M576.6 280.1L581.6 272.6L586.0 271.3L586.0 285.1L579.1 285.1Z"/>
<path fill="#deb887" d="M577.9 278.8L584.1 275.1L586.0 277.6L581.6 282.6Z"/>
<path fill="#beeb5f" d="M572.9 296.4L579.1 290.1L586.0 286.3L586.0 300.0L572.9 300.0Z"/>
<path fill="#beeb5f" d="M473.6 259.4L482.8 260.1L491.5 265.1L495.9 270.1L497.5 274.5L494.0 277.6L484.0 277.0L473.6 277.6Z"/>
<path fill="#20b2aa" d="M473.6 263.2L484.0 262.6L491.5 266.3L495.9 272.6L494.0 276.3L484.0 275.1L473.6 275.1Z"/>
<path fill="#b0e0e6" d="M473.6 264.4L482.8 264.4L490.3 267.6L494.0 272.6L487.8 273.8L479.0 273.2L473.6 273.2Z"/>
<path fill="#7396f0" d="M476.5 268.8L481.5 266.9L482.1 269.4L478.4 271.3Z"/>
<path fill="#beeb5f" d="M499.0 268.2L506.5 266.3L515.3 266.9L514.1 270.7L505.3 272.0L499.7 271.3Z"/>
<path fill="#f5e6be" d="M473.6 282.6L476.5 285.1L480.3 292.6L477.8 295.1L473.6 292.6Z"/>
<path fill="#ff4500" d="M579.0 216.5L597.8 216.5L597.8 220.0L594.6 224.4L590.9 228.1L585.9 228.8L579.0 226.3Z"/>
<path fill="#b22222" d="M579.0 216.5L594.0 216.5L596.5 218.8L594.0 222.5L590.3 226.3L586.5 227.5L582.8 225.6L579.0 225.0Z"/>
<path fill="#deb887" d="M597.8 220.6L604.0 221.3L609.0 225.6L612.2 230.7L610.9 235.0L605.9 237.8L601.5 235.0L597.8 228.8L595.3 225.0Z"/>
<path fill="#f5e6be" d="M602.8 225.6L607.8 226.9L610.3 231.3L609.0 235.0L605.9 236.3L603.4 232.5L601.5 228.8Z"/>
<path fill="#ffe100" d="M597.8 216.5L644.1 216.5L644.7 223.8L641.6 228.8L637.2 232.5L632.8 236.3L627.2 238.2L620.3 238.2L614.0 235.7L610.3 230.7L607.8 225.6L604.0 221.9L597.8 220.0Z"/>
<path fill="#ffa500" d="M597.8 216.5L642.8 216.5L643.5 222.5L640.3 227.5L635.3 230.7L631.6 234.4L626.6 236.5L620.3 236.5L615.5 234.8L611.8 230.0L609.3 225.0L604.7 221.0L599.0 219.4Z"/>
<path fill="#ffe100" d="M615.3 218.8L621.6 217.5L622.8 222.5L617.8 223.8Z"/>
<path fill="#ffe100" d="M619.1 228.8L629.1 226.3L632.8 230.0L629.1 235.0L621.6 235.0Z"/>
<path fill="#ff4500" d="M635.9 218.1L639.1 217.5L638.4 222.5L635.9 221.9Z"/>
<path fill="#ff4500" d="M625.1 221.9L628.1 223.8L626.8 225.3Z"/>
<path fill="#ff4500" d="M611.8 230.0L614.7 231.9L617.8 235.0L621.6 236.9L620.3 238.2L615.3 236.9L612.2 233.8Z"/>
<path fill="#f5e6be" d="M601.5 236.9L611.5 235.0L621.6 238.2L623.4 241.3L621.6 246.3L615.3 251.3L607.2 253.2L603.4 246.3Z"/>
<path fill="#96be32" d="M605.9 241.3L614.0 238.8L619.1 241.3L619.7 246.3L614.0 250.1L607.8 251.3L604.7 246.3Z"/>
<path fill="#ffe100" d="M593.4 230.7L596.5 231.9L600.9 240.0L604.0 247.5L607.2 253.8L615.3 252.6L621.6 246.3L624.1 240.0L622.8 238.2L620.3 243.8L615.3 250.1L609.0 253.2L605.9 252.6L603.4 246.3L600.3 238.8L597.1 233.2Z"/>
<path fill="#ffa500" d="M595.3 232.5L599.7 239.4L602.2 240.7L599.0 235.0Z"/>
<path fill="#f5e6be" d="M622.8 241.3L631.6 238.2L635.3 240.0L629.1 245.0L626.6 251.3L627.8 260.1L632.8 263.8L644.1 266.3L659.1 265.1L665.4 271.3L666.6 276.3L659.1 277.6L649.1 275.7L637.8 274.5L626.6 274.5L616.5 275.7L607.8 276.3L607.2 272.6L611.5 265.1L614.0 260.1L619.1 256.3L622.2 247.5Z"/>
<path fill="#deb887" d="M615.3 262.6L620.3 256.3L625.3 251.3L627.2 260.1L621.6 263.8L616.5 265.1Z"/>
<path fill="#ffe100" d="M605.9 253.8L615.3 252.6L619.1 256.3L616.5 260.1L614.0 263.8L612.2 260.1L609.0 257.6Z"/>
<path fill="#f5e6be" d="M631.6 236.9L644.1 231.9L649.1 229.4L656.6 233.2L662.2 238.8L654.1 241.9L646.6 240.0L639.1 240.7L635.3 241.3Z"/>
<path fill="#deb887" d="M634.1 236.3L644.1 233.2L649.1 231.3L655.3 235.0L654.1 239.4L646.6 238.2L639.1 239.0Z"/>
<path fill="#f5e6be" d="M641.6 222.5L649.1 219.8L659.1 221.0L665.4 224.4L661.6 228.8L654.1 228.8L646.6 226.3Z"/>
<path fill="#deb887" d="M651.0 223.1L659.1 222.5L661.6 226.3L656.6 228.8L652.2 226.9Z"/>
<path fill="#beeb5f" d="M646.6 225.0L648.5 223.1L649.7 226.9L647.8 228.1Z"/>
<path fill="#beeb5f" d="M635.3 250.1L640.3 246.3L645.3 251.3L647.2 260.1L644.1 258.8L639.1 255.7Z"/>
<path fill="#20b2aa" d="M641.6 251.9L644.1 253.2L643.5 255.3L641.6 254.4Z"/>
<path fill="#f5e6be" d="M650.3 251.3L654.1 246.3L660.4 241.9L664.7 243.8L665.4 248.8L659.1 252.6L652.8 256.3L649.7 257.6Z"/>
<path fill="#beeb5f" d="M652.8 231.9L660.4 227.5L666.6 222.5L674.1 220.0L684.1 222.5L685.4 227.5L679.1 232.5L671.6 235.0L665.4 238.8L659.1 235.0Z"/>
<path fill="#20b2aa" d="M658.5 233.2L665.4 230.0L670.4 230.0L671.6 233.8L666.6 236.3L660.4 235.0Z"/>
<path fill="#b0e0e6" d="M664.1 232.5L668.5 231.5L669.1 233.8L665.4 234.4Z"/>
<path fill="#beeb5f" d="M659.1 216.5L666.6 216.5L665.4 220.0L660.4 219.4Z"/>
<path fill="#f5e6be" d="M675.4 232.5L679.1 231.3L681.0 233.8L677.9 235.7Z"/>
<path fill="#beeb5f" d="M675.4 238.8L679.1 237.5L681.0 240.7L677.2 241.9Z"/>
<path fill="#deb887" d="M669.1 216.5L676.6 216.5L674.1 218.8L670.4 218.5Z"/>
<path fill="#beeb5f" d="M665.4 243.8L671.6 240.0L677.9 246.3L682.9 253.8L681.6 260.1L676.6 257.6L671.6 253.8L666.6 250.1Z"/>
<path fill="#ffe100" d="M684.1 241.3L696.0 236.9L696.0 246.3L689.1 246.9L685.4 245.0Z"/>
<path fill="#f5e6be" d="M675.4 260.1L682.9 253.8L679.1 250.1L685.4 246.3L696.0 246.9L696.0 262.6L689.1 267.6L681.6 268.8L676.6 265.1Z"/>
<path fill="#deb887" d="M679.1 250.1L685.4 246.3L696.0 246.9L696.0 252.6L687.9 253.8L681.6 253.8Z"/>
<path fill="#beeb5f" d="M682.9 270.1L691.6 263.8L694.1 268.8L691.6 277.6L685.4 276.3Z"/>
<path fill="#20b2aa" d="M685.4 272.6L689.1 269.4L691.6 272.6L689.1 277.6L686.0 276.3Z"/>
<path fill="#beeb5f" d="M666.6 265.1L671.6 263.8L677.9 272.6L682.9 281.3L679.1 282.6L672.9 275.1Z"/>
<path fill="#20b2aa" d="M676.6 277.6L678.5 277.6L677.9 280.1Z"/>
<path fill="#beeb5f" d="M649.1 300.0L654.1 290.1L659.1 286.3L669.1 290.1L679.1 295.1L696.0 300.0Z"/>
<path fill="#f5e6be" d="M681.6 283.8L696.0 286.3L696.0 292.6L686.6 290.1Z"/>
<path fill="#f5e6be" d="M591.5 251.9L605.3 253.8L610.3 259.4L601.5 258.2L594.0 255.7Z"/>
<path fill="#beeb5f" d="M594.0 260.1L601.5 258.8L607.8 265.1L605.3 270.1L597.8 267.6Z"/>
<path fill="#20b2aa" d="M595.9 261.3L600.3 260.1L605.9 265.1L604.0 268.8L599.0 266.3Z"/>
<path fill="#b0e0e6" d="M599.0 262.6L602.8 263.2L604.7 266.3L602.2 267.6Z"/>
<path fill="#f5e6be" d="M579.0 272.6L586.5 270.1L596.5 269.4L599.0 272.6L591.5 280.1L585.3 285.1L579.0 283.8Z"/>
<path fill="#deb887" d="M579.0 275.1L585.3 272.6L589.0 275.1L587.8 281.3L582.8 283.8L579.0 282.6Z"/>
<path fill="#f5e6be" d="M579.0 238.8L584.0 238.2L586.5 241.3L582.8 244.4L579.0 243.8Z"/>
<path fill="#beeb5f" d="M587.8 241.3L591.5 242.5L594.0 247.5L591.5 250.1L589.0 246.3Z"/>
<path fill="#f5e6be" d="M529.0 272.5L541.5 270.0L554.0 269.4L564.0 268.8L566.5 272.5L569.1 280.1L570.9 286.3L570.3 290.1L564.0 291.3L556.5 290.1L547.8 292.6L539.0 295.1L529.0 293.8Z"/>
<path fill="#deb887" d="M559.0 277.5L564.0 276.3L567.8 280.1L570.3 286.3L569.7 291.3L566.5 290.1L564.7 282.6Z"/>
<path fill="#deb887" d="M543.4 283.2L549.0 281.9L556.5 282.6L555.9 285.1L546.5 285.7Z"/>
<path fill="#f5e6be" d="M566.5 276.3L574.1 275.0L581.6 272.5L589.1 270.0L599.1 269.4L604.1 271.3L599.1 274.4L594.1 277.5L591.6 283.2L587.8 287.6L581.6 290.1L575.3 292.6L571.6 291.3L570.9 285.1L569.1 280.1Z"/>
<path fill="#deb887" d="M576.6 278.8L581.6 275.0L587.8 272.5L594.1 271.3L597.8 270.7L596.6 273.8L591.6 276.3L589.1 281.3L584.1 283.8L579.1 283.2L576.6 281.3Z"/>
<path fill="#beeb5f" d="M531.5 263.2L536.5 258.8L542.8 256.3L554.0 257.5L561.5 257.5L570.3 258.8L579.1 260.7L585.3 264.4L586.6 266.9L579.1 268.2L572.8 269.4L566.5 269.4L561.5 266.9L554.0 265.0L547.8 266.9L541.5 266.9L535.3 265.0Z"/>
<path fill="#20b2aa" d="M539.6 258.8L544.0 258.1L549.7 261.9L550.9 263.8L546.5 265.0L542.1 263.2Z"/>
<path fill="#20b2aa" d="M560.3 261.3L565.3 261.3L571.6 265.7L572.2 267.5L566.5 268.2L562.8 265.0Z"/>
<path fill="#beeb5f" d="M566.5 269.4L572.8 269.4L581.6 268.2L586.6 266.9L587.8 270.0L581.6 272.5L574.1 275.0L567.8 275.7L566.5 272.5Z"/>
<path fill="#beeb5f" d="M592.8 258.8L599.1 257.5L605.3 261.3L607.8 266.3L602.8 269.4L597.8 268.8L594.7 263.8Z"/>
<path fill="#20b2aa" d="M596.0 261.3L600.3 260.0L604.7 263.2L605.3 266.9L602.2 268.2L598.5 265.7Z"/>
<path fill="#b0e0e6" d="M599.1 263.2L602.8 262.5L604.1 265.7L601.6 266.9Z"/>
<path fill="#beeb5f" d="M570.9 295.1L579.1 291.3L586.6 288.8L591.6 283.8L594.1 277.5L599.1 276.3L604.1 278.8L609.1 283.8L615.4 290.1L616.6 300.1L614.1 310.1L609.1 312.0L604.1 311.3L599.1 310.1L594.1 315.1L589.1 322.6L579.1 325.1L575.9 320.1L573.4 310.1L571.6 302.6Z"/>
<path fill="#20b2aa" d="M575.9 310.1L577.8 303.8L582.8 300.1L586.6 293.8L591.6 288.8L594.1 282.6L596.6 276.3L600.3 273.8L602.8 276.3L604.1 282.6L602.8 290.1L600.3 297.6L596.6 307.6L591.6 317.6L585.3 323.2L577.8 323.9L574.7 317.6Z"/>
<path fill="#b0e0e6" d="M577.2 321.4L579.1 315.1L582.8 311.3L587.8 307.6L590.3 300.1L594.1 293.8L594.7 285.1L596.6 277.5L599.7 275.7L601.6 278.8L602.2 286.3L601.0 293.8L597.2 302.6L594.1 310.1L590.3 317.6L584.1 322.6L578.4 323.6Z"/>
<path fill="#7396f0" d="M592.8 296.3L597.8 293.8L599.1 295.7L594.7 298.8Z"/>
<path fill="#f5e6be" d="M606.6 292.6L610.4 290.1L612.6 290.7L610.4 295.1L607.2 296.3Z"/>
<path fill="#20b2aa" d="M607.2 302.6L609.1 297.6L612.9 294.4L614.7 297.6L612.9 305.1L609.7 308.8L607.2 307.6Z"/>
<path fill="#b0e0e6" d="M609.1 300.1L611.6 296.9L612.9 299.4L611.0 306.3L609.1 305.7Z"/>
<path fill="#beeb5f" d="M626.0 281.9L630.4 280.7L632.9 283.2L630.4 286.3L626.6 285.1Z"/>
<path fill="#f5e6be" d="M624.2 238.7L631.7 237.7L636.0 239.8L631.7 243.6L627.4 246.8L626.4 252.6L627.4 258.0L629.6 263.3L623.2 265.5L618.9 267.6L616.8 264.4L620.5 259.6L621.6 254.8L624.2 251.0Z"/>
<path fill="#deb887" d="M597.5 221.6L601.8 222.7L606.1 225.4L609.3 229.1L610.9 233.4L614.6 237.7L612.5 239.3L609.3 238.7L606.1 241.9L603.9 245.2L601.8 243.0L599.6 238.7L597.5 234.5L595.4 231.3L594.3 227.0L596.4 223.8Z"/>
<path fill="#f5e6be" d="M601.2 229.1L605.0 228.0L609.3 230.7L610.3 235.0L608.2 238.7L605.0 240.9L603.4 237.7L601.8 233.4Z"/>
<path fill="#f5e6be" d="M603.9 241.9L609.3 239.3L615.7 237.7L622.1 239.8L624.2 243.0L622.1 247.3L616.8 251.0L610.3 253.7L606.1 253.2L604.5 248.4Z"/>
<path fill="#96be32" d="M604.5 243.6L609.3 240.3L614.6 238.7L618.9 240.3L622.1 243.0L621.0 246.2L616.8 249.4L611.4 252.1L607.1 251.6L605.0 247.3Z"/>
<path fill="#deb887" d="M613.5 263.3L617.8 260.7L621.0 259.1L623.2 261.2L620.0 265.5L615.7 267.6L613.0 266.5Z"/>
<path fill="#ffe100" d="M597.0 216.5L644.6 216.5L644.6 223.8L642.4 229.1L639.2 233.4L634.9 236.6L628.5 238.7L625.3 240.9L623.2 244.1L622.1 238.7L616.8 237.7L612.5 233.4L609.3 229.1L606.1 225.4L601.8 222.7L597.5 221.6Z"/>
<path fill="#ffa500" d="M598.6 216.5L642.4 216.5L643.5 222.7L641.4 228.0L638.1 232.3L633.9 235.0L628.5 237.1L623.2 237.7L618.9 236.1L615.7 232.9L612.5 229.1L609.3 225.9L606.1 222.7L601.8 220.6L598.6 220.0Z"/>
<path fill="#ffe100" d="M610.3 221.6L616.8 219.5L618.9 222.7L614.6 224.8Z"/>
<path fill="#ffe100" d="M618.9 228.0L627.4 225.9L633.9 229.1L631.7 234.5L625.3 236.1L621.0 233.4Z"/>
<path fill="#ff4500" d="M636.0 218.4L638.7 217.9L638.7 222.7L636.0 222.2Z"/>
<path fill="#ff4500" d="M625.3 221.6L628.5 223.8L627.4 225.4Z"/>
<path fill="#ff4500" d="M611.4 229.6L614.6 230.7L617.3 233.9L621.0 236.1L620.0 238.2L615.7 237.7L612.5 235.0L610.9 232.3Z"/>
<path fill="#ffe100" d="M593.2 230.7L595.9 231.8L598.6 235.5L601.8 240.9L603.9 245.2L606.1 250.5L607.1 254.8L605.0 255.9L602.9 251.6L600.2 246.2L597.5 240.9L594.8 235.5Z"/>
<path fill="#ffa500" d="M595.4 232.9L598.0 235.0L601.2 238.7L603.4 238.2L600.7 236.1L597.5 232.9Z"/>
<path fill="#ffe100" d="M606.1 254.2L612.5 253.2L618.9 250.0L623.2 246.2L625.3 241.4L627.4 240.9L626.9 246.2L623.2 251.6L621.0 254.8L620.5 259.1L617.8 261.2L615.7 263.3L613.5 260.1L614.6 256.9L611.4 255.9L607.1 256.4Z"/>
<path fill="#ff4500" d="M559.0 216.5L597.5 216.5L597.7 221.1L596.2 227.0L593.4 228.9L587.9 228.0L584.7 226.8L580.4 228.9L577.2 230.0L573.4 227.8L570.2 225.7L567.6 222.5L564.9 221.1L559.0 220.6Z"/>
<path fill="#b22222" d="M567.0 216.5L596.4 216.5L597.0 220.6L595.4 224.6L592.7 225.7L588.9 224.6L584.7 225.4L580.4 227.8L577.2 228.9L574.0 227.0L570.8 224.8L568.1 221.6Z"/>
<path fill="#ff4500" d="M574.0 223.8L576.1 222.7L577.2 225.4L575.0 226.4Z"/>
<path fill="#ffe100" d="M574.0 232.3L576.1 231.8L576.6 234.5L574.5 235.0Z"/>
<path fill="#ffe100" d="M559.0 236.1L564.3 235.5L566.0 238.2L561.1 239.3L559.0 238.7Z"/>
<path fill="#ffe100" d="M574.5 241.9L576.6 241.4L577.2 245.7L575.0 246.2Z"/>
<path fill="#f5e6be" d="M590.0 253.7L595.4 252.1L601.8 253.2L606.1 256.9L601.8 259.1L595.4 256.9L591.1 258.0L587.9 256.9Z"/>
<path fill="#beeb5f" d="M587.9 243.0L591.1 241.9L594.3 247.3L592.2 249.4L589.5 247.3Z"/>
<path fill="#beeb5f" d="M729.1 216.5L754.1 216.5L751.6 218.5L731.6 219.0Z"/>
<path fill="#f5e6be" d="M695.3 221.9L702.8 221.3L720.3 224.4L730.3 222.5L754.1 220.6L779.1 217.5L789.1 216.5L806.0 216.5L806.0 222.5L789.1 223.8L764.1 226.3L739.1 230.7L720.3 232.5L701.5 233.2L696.5 231.3Z"/>
<path fill="#deb887" d="M697.8 227.5L720.3 226.3L739.1 225.0L754.1 223.1L776.6 220.0L795.4 217.8L806.0 217.5L806.0 222.5L789.1 223.8L764.1 226.3L739.1 230.7L720.3 232.8L701.5 233.5L697.1 231.9Z"/>
<path fill="#ffe100" d="M689.0 241.3L694.0 235.0L698.4 232.5L720.3 232.5L739.1 228.8L764.1 225.6L789.1 222.5L806.0 220.0L806.0 246.3L789.1 246.9L764.1 246.3L745.3 248.8L732.8 251.9L720.3 250.7L701.5 247.5L689.0 246.3Z"/>
<path fill="#ffa500" d="M720.3 240.7L729.1 235.7L745.3 233.2L764.1 228.8L789.1 225.0L806.0 223.1L806.0 240.0L789.1 240.7L770.4 241.9L751.6 242.5L739.1 245.7L731.6 245.0L724.0 243.2Z"/>
<path fill="#deb887" d="M689.0 246.3L701.5 247.5L720.3 250.7L732.8 251.9L745.3 248.8L764.1 246.3L789.1 246.9L806.0 246.3L806.0 250.1L789.1 250.3L766.6 251.3L747.8 255.1L732.8 256.3L714.0 253.8L699.0 251.3L689.0 251.3Z"/>
<path fill="#f5e6be" d="M696.5 251.3L714.0 253.8L732.8 256.3L747.8 255.1L766.6 251.3L789.1 250.3L806.0 250.1L806.0 253.8L789.1 253.2L770.4 256.3L751.6 261.3L741.6 263.8L726.5 261.3L707.8 259.4L700.3 256.3Z"/>
<path fill="#f5e6be" d="M740.9 271.3L751.6 268.2L776.6 268.2L806.0 266.9L806.0 283.8L789.1 280.1L770.4 277.6L754.1 276.3L745.3 273.8Z"/>
<path fill="#deb887" d="M766.0 273.8L776.6 270.7L806.0 269.4L806.0 280.1L789.1 278.2L774.1 276.3Z"/>
<path fill="#ffe100" d="M785.4 274.5L792.9 272.0L806.0 271.1L806.0 277.0L792.9 277.0Z"/>
<path fill="#beeb5f" d="M724.0 285.1L732.8 280.7L754.1 278.6L770.4 280.7L789.1 285.1L806.0 293.6L806.0 300.0L724.0 300.0Z"/>
<path fill="#96be32" d="M727.8 291.4L735.3 288.8L740.3 295.1L739.1 300.0L729.1 300.0Z"/>
<path fill="#f5e6be" d="M802.3 286.3L806.0 285.1L806.0 288.8L803.5 288.8Z"/>
<path fill="#20b2aa" d="M712.8 276.3L721.5 277.0L729.1 281.3L730.3 285.1L725.3 286.3L719.0 283.8L714.0 280.1Z"/>
<path fill="#b0e0e6" d="M718.4 280.7L725.3 280.7L726.5 283.8L721.5 285.1Z"/>
<path fill="#7396f0" d="M722.8 281.3L725.3 281.6L724.7 283.8Z"/>
<path fill="#20b2aa" d="M689.0 270.1L691.5 271.3L692.1 276.3L689.0 277.6Z"/>
<path fill="#beeb5f" d="M689.0 265.1L692.8 263.8L694.0 270.1L691.5 272.6L689.0 270.1Z"/>
<path fill="#beeb5f" d="M701.5 300.0L706.5 292.6L714.0 290.1L721.5 290.1L724.0 300.0Z"/>
<path fill="#f5e6be" d="M715.9 290.1L719.7 289.5L719.0 296.4L715.9 296.4Z"/>
<path fill="#20b2aa" d="M722.8 295.1L724.7 296.4L725.3 300.0L723.4 300.0Z"/>
<path fill="#deb887" d="M789.0 241.9L807.8 242.5L821.5 239.4L826.5 241.3L849.1 246.3L859.1 250.1L869.1 255.1L876.6 259.4L869.1 258.8L859.1 256.9L839.1 257.6L826.5 256.9L814.0 253.8L801.5 250.1L789.0 249.4Z"/>
<path fill="#f5e6be" d="M789.0 249.4L801.5 250.1L814.0 253.8L826.5 256.9L839.1 257.6L859.1 256.9L869.1 258.8L875.4 260.1L864.1 260.7L839.1 260.1L820.3 260.1L807.8 260.1L801.5 255.1L789.0 253.2Z"/>
<path fill="#ffe100" d="M789.0 216.5L893.5 216.5L893.5 256.9L887.9 258.2L881.6 257.6L875.4 258.2L869.1 254.4L859.1 249.4L850.3 245.7L847.8 241.3L844.1 238.8L830.3 239.4L821.5 239.4L807.8 242.3L789.0 241.9Z"/>
<path fill="#deb887" d="M826.5 239.4L844.1 238.5L847.8 241.3L850.3 245.7L859.1 249.4L854.1 250.1L841.6 246.3L830.3 243.8Z"/>
<path fill="#deb887" d="M789.0 216.5L821.5 216.5L807.8 219.8L789.0 222.3Z"/>
<path fill="#f5e6be" d="M789.0 216.5L815.3 216.5L801.5 217.9L789.0 218.8Z"/>
<path fill="#ffe100" d="M817.2 247.5L821.5 243.8L830.3 243.2L839.1 245.0L840.3 248.8L836.6 252.6L826.5 253.8L819.0 251.3Z"/>
<path fill="#deb887" d="M827.2 220.0L831.6 218.8L833.4 225.0L831.6 230.7L827.8 227.5Z"/>
<path fill="#ffa500" d="M789.0 225.0L801.5 223.8L817.8 221.3L824.0 221.9L822.8 228.8L817.8 235.0L807.8 238.2L796.5 240.0L789.0 241.3Z"/>
<path fill="#ffa500" d="M831.6 216.5L854.1 216.5L851.6 222.5L850.3 230.0L849.1 238.8L846.6 243.8L842.8 240.0L839.1 233.8L836.6 227.5L834.1 221.3Z"/>
<path fill="#ff4500" d="M832.2 216.5L842.8 216.5L842.2 220.0L840.9 223.1L844.7 231.3L847.6 238.8L845.9 240.7L841.6 235.0L837.8 227.5L834.1 221.3Z"/>
<path fill="#b22222" d="M840.1 226.9L841.6 227.3L846.8 239.0L845.7 239.5L841.6 233.2Z"/>
<path fill="#f5e6be" d="M855.3 216.5L887.9 216.5L885.4 221.3L880.4 226.3L875.4 228.8L869.1 226.3L861.6 225.0L856.6 221.3Z"/>
<path fill="#deb887" d="M856.6 217.5L864.1 220.0L874.1 225.0L879.1 227.5L875.4 229.4L869.1 226.9L861.6 225.0L857.2 221.9Z"/>
<path fill="#ffa500" d="M861.6 232.5L866.6 230.0L876.6 229.4L880.4 235.0L884.1 238.8L893.5 237.5L893.5 256.3L887.9 258.2L881.6 256.3L876.6 251.3L871.6 247.5L866.6 246.3L862.8 242.5L861.0 237.5Z"/>
<path fill="#ff4500" d="M864.7 241.3L867.8 239.4L871.6 241.3L870.4 244.4L866.6 245.7Z"/>
<path fill="#ff4500" d="M881.0 247.5L887.9 246.3L891.6 250.1L889.1 253.8L882.9 251.3Z"/>
<path fill="#ffe100" d="M887.2 216.5L893.5 216.5L893.5 225.0L889.1 227.5L885.4 225.0L886.0 221.3Z"/>
<path fill="#ffa500" d="M888.5 216.5L893.5 216.5L893.5 221.3L889.1 220.0Z"/>
<path fill="#f5e6be" d="M856.6 243.8L861.6 245.0L864.1 247.5L860.3 248.8L857.2 246.3Z"/>
<path fill="#beeb5f" d="M830.9 263.2L839.1 261.9L851.6 262.6L859.1 265.7L856.6 267.6L845.3 266.3L834.1 265.7Z"/>
<path fill="#beeb5f" d="M881.6 263.8L887.9 260.1L893.5 260.1L893.5 280.1L886.6 278.8L882.2 275.1Z"/>
<path fill="#20b2aa" d="M883.5 263.8L887.9 261.3L893.5 261.3L893.5 276.3L887.9 276.3L884.1 273.8Z"/>
<path fill="#b0e0e6" d="M885.4 265.1L888.5 262.6L893.5 262.6L893.5 274.5L888.5 274.5L886.0 272.0Z"/>
<path fill="#7396f0" d="M887.2 265.1L890.4 263.8L892.3 266.3L891.6 272.0L888.5 272.6L886.9 268.8Z"/>
<path fill="#ffe100" d="M815.0 241.3L828.9 238.8L832.2 242.0L827.9 245.6L818.3 246.6Z"/>
<path fill="#deb887" d="M886.2 223.1L891.0 221.5L893.1 222.6L893.1 229.0L888.8 230.0L885.6 226.8Z"/>
<path fill="#deb887" d="M679.3 246.1L684.6 243.9L697.4 246.1L699.6 250.4L688.9 250.9L681.4 249.8Z"/>
<path fill="#ffe100" d="M680.3 245.2L684.6 242.0L693.2 238.4L697.4 233.3L700.1 232.2L700.1 246.6L693.2 248.0L684.6 247.4Z"/>
<path fill="#96be32" d="M677.7 283.4L681.5 286.0L687.4 290.5L691.9 295.0L695.7 298.0L688.9 302.5L686.7 302.5L684.4 298.0L677.7 293.5L674.0 289.0Z"/>
<path fill="#f5e6be" d="M678.5 283.0L683.7 284.5L694.9 287.1L706.9 289.0L703.9 292.7L697.9 296.5L695.7 298.0L691.9 295.0L687.4 290.5L681.5 286.0Z"/>
<path fill="#96be32" d="M700.9 295.0L703.9 292.7L706.9 289.4L712.9 291.2L715.9 295.0L711.4 296.8L705.4 296.1Z"/>
<path fill="#f5e6be" d="M497.8 284.4L500.9 283.8L500.3 290.1L498.0 290.3Z"/>
<path fill="#20b2aa" d="M500.9 305.1L505.3 293.8L510.9 282.5L513.4 283.2L511.6 291.3L507.8 302.6L505.3 305.1Z"/>
<path fill="#b0e0e6" d="M502.8 303.8L506.5 293.8L509.1 290.1L510.3 293.8L507.2 303.8Z"/>
<path fill="#20b2aa" d="M687.9 312.6L689.8 308.2L696.0 307.6L696.0 317.6L689.1 317.6Z"/>
<path fill="#b0e0e6" d="M689.1 317.6L696.0 317.0L696.0 325.1L690.4 324.5Z"/>
<path fill="#96be32" d="M724.7 288.8L735.3 288.8L739.1 292.6L740.3 298.8L730.3 300.1L726.5 295.1Z"/>
<path fill="#f5e6be" d="M715.9 291.3L719.7 290.1L720.3 296.3L717.2 296.9Z"/>
<path fill="#20b2aa" d="M722.8 290.1L725.3 297.6L729.1 305.1L731.6 308.8L729.1 307.6L725.3 301.3L722.2 293.8Z"/>
<path fill="#4169e1" d="M720.3 327.6L725.3 327.0L726.5 330.7L720.3 330.7Z"/>
<path fill="#f5e6be" d="M789.0 267.5L814.0 266.9L839.1 267.5L854.1 270.0L864.1 272.5L874.1 268.8L881.6 265.0L884.1 267.5L880.4 275.0L877.9 280.0L880.4 286.3L884.1 290.1L889.1 292.6L893.5 293.8L893.5 297.6L890.4 296.3L884.1 291.3L879.1 286.3L876.6 281.3L870.4 276.9L866.6 278.2L863.5 282.5L862.8 291.3L857.8 295.7L839.1 292.6L820.3 290.1L804.0 286.3L789.0 281.3Z"/>
<path fill="#deb887" d="M789.0 269.4L814.0 268.8L839.1 270.0L850.3 272.5L854.1 277.5L854.7 285.0L850.3 288.2L839.1 287.5L820.3 285.0L805.3 282.5L789.0 279.4Z"/>
<path fill="#ffe100" d="M789.0 272.5L801.5 271.3L826.5 271.3L839.1 273.8L836.6 276.9L820.3 277.5L801.5 276.9L789.0 275.7Z"/>
<path fill="#ffe100" d="M877.2 277.5L879.7 275.0L882.2 282.5L884.1 287.5L881.6 286.3L878.5 282.5Z"/>
<path fill="#deb887" d="M879.1 285.0L885.4 287.5L891.6 291.3L893.5 293.8L893.5 297.6L887.9 295.1L882.9 290.1Z"/>
<path fill="#ffa500" d="M473.6 234.4L476.5 231.9L484.0 228.8L494.0 224.8L504.0 221.3L511.6 218.8L519.1 216.5L544.1 216.5L539.1 235.0L531.6 238.8L521.6 242.8L510.3 247.5L500.3 253.2L487.8 257.3L473.6 257.3Z"/>
<path fill="#ff4500" d="M473.6 241.3L476.5 238.5L484.0 234.8L494.0 229.8L504.0 226.0L511.6 222.9L521.6 221.3L531.6 220.4L539.1 219.1L542.8 217.3L545.6 221.3L543.1 226.3L539.1 231.3L534.1 235.0L529.1 238.2L522.8 241.3L516.6 243.2L509.1 244.4L501.5 245.7L494.0 246.9L487.8 247.5L481.5 247.0L476.5 246.4L473.6 247.0Z"/>
<path fill="#f5e6be" d="M736.6 261.9L747.8 264.1L746.6 266.9L741.6 268.8L740.9 272.0L732.8 272.6L734.1 269.4L739.1 266.3Z"/>
<path fill="#deb887" d="M750.3 273.8L759.1 272.0L776.6 270.7L806.0 269.4L806.0 280.1L789.1 278.2L774.1 277.0L759.1 276.3L751.6 275.3Z"/>
<path fill="#ffe100" d="M791.6 274.5L796.6 272.2L806.0 271.3L806.0 277.0L795.4 277.0Z"/>
<path fill="#ffe100" d="M807.8 242.3L821.5 239.4L830.3 239.4L844.1 238.8L849.1 241.3L850.3 245.7L847.8 248.8L842.8 251.3L836.6 252.8L826.5 253.2L819.0 251.9L814.0 248.8L804.0 245.7L796.5 243.8Z"/>
<path fill="#ffe100" d="M792.8 273.2L801.5 271.6L826.5 271.1L840.3 273.6L839.1 277.0L820.3 278.2L801.5 277.6L794.0 276.1Z"/>
<path fill="none" stroke="#000" stroke-width="0.85" stroke-linejoin="round" stroke-linecap="round" d="M472.3 256.3L476.3 258.2L481.9 259.4L485.0 262.6L488.8 265.1L493.2 266.3L495.0 268.8L495.7 272.6L496.9 274.5L502.5 275.7L507.5 277.6L511.3 280.1L513.8 282.6L514.1 286.3L511.9 288.8L510.1 292.0L508.8 296.4L507.5 301.4L505.7 305.1L501.3 307.0L498.2 310.1L496.9 315.1L494.4 320.1L491.3 324.5L488.8 325.1L486.3 323.9L487.5 326.4L488.1 330.8 M495.0 272.6L494.4 274.5L496.3 275.1 M472.5 246.3L475.0 247.5L477.5 247.5 M481.9 250.1L483.1 253.2 M545.1 216.3L550.1 217.5L552.6 218.1L548.8 219.4L547.0 221.9L545.1 225.0L542.6 228.8L540.1 231.9L537.6 234.4L535.7 238.8L534.5 243.2L535.1 247.5L534.5 252.6L535.7 256.3L538.2 260.1L540.7 262.6L543.8 265.7L546.3 267.3L551.4 265.7L556.4 264.8L560.1 264.4L562.0 266.9L564.5 267.8L565.7 270.1L565.1 273.8L567.0 277.6L568.9 281.3L570.1 286.3L570.1 291.4L568.9 296.4L570.1 301.4L572.0 306.4L573.3 311.4L575.1 316.4L576.4 321.4L577.6 324.5L581.4 323.9L587.0 322.6 M552.6 218.1L557.6 218.5L565.1 217.8L567.0 220.0L566.4 222.5L568.9 224.4L572.6 226.3L576.4 228.8L580.1 227.5L587.0 228.1 M570.1 217.5L572.6 218.8 M580.1 217.8L583.9 220.0L587.0 221.0 M580.0 225.0L585.0 227.5L590.0 228.8L592.5 228.1L595.0 225.0L596.9 221.3L596.3 217.5L592.5 216.9L587.5 217.8L582.5 216.9 M592.5 230.7L595.0 236.3L598.8 243.8L602.5 251.3L605.0 255.7L605.7 258.2L609.4 258.2L613.8 256.9L613.2 261.3L610.7 266.3L606.9 271.3L603.2 276.3L600.0 281.3L599.4 286.3L600.7 291.4L601.3 295.7L598.8 298.2L595.6 301.4L595.0 305.1L593.8 308.9L591.9 312.6L589.4 317.6L585.6 322.0L580.0 323.9 M593.8 230.0L596.9 235.7L600.7 243.2L604.4 250.7L606.3 254.4L610.0 253.8L616.3 250.7L621.3 246.3L624.4 241.9L623.2 238.8L620.7 236.9L617.5 238.2L614.4 236.9L612.5 233.2L610.7 230.7L611.9 229.4L614.4 231.9L616.3 235.0L620.1 235.0L622.6 236.3L627.6 236.9L632.6 237.5L635.7 241.3L638.8 242.5L640.1 247.5L642.0 252.6L643.8 257.6L645.1 261.3L647.0 260.1L648.2 253.8L650.1 249.4L655.1 245.0L658.2 242.5L661.4 241.9L663.2 244.4L665.7 248.8L667.6 250.1L669.5 254.4L670.1 260.1L672.6 265.1L675.1 268.8L677.0 272.6L678.9 276.3L680.1 275.1L676.4 268.8L673.2 262.6L671.4 258.8L672.0 255.1L675.1 256.9L678.9 259.4L681.4 256.3L682.0 252.6L679.5 248.8L678.9 245.7L681.4 243.2L685.1 241.9L690.1 239.4L693.9 235.0L695.8 230.0L695.1 225.0L693.9 221.3L697.0 217.5 M647.6 260.1L649.5 261.9L649.5 264.4L647.6 265.1L647.0 262.6Z M665.7 265.7L670.1 266.9L675.1 272.6L680.1 280.1L683.9 283.8L680.1 283.2L675.1 278.8L670.1 272.6L666.4 268.2Z M678.9 281.3L686.4 283.8L697.0 285.7 M682.0 271.3L687.6 266.9L692.0 264.4L693.9 268.8L692.6 273.8L688.9 277.6L684.5 276.3L682.6 273.2Z M681.4 245.0L683.3 245.0L683.3 247.5L681.4 247.5Z M606.3 298.2L608.8 293.9L611.9 290.1L613.8 292.0L613.5 297.6L611.9 303.9L610.0 308.2L606.9 309.5L605.7 305.1Z M591.3 273.8L593.8 273.2L594.4 275.7L591.9 276.3Z M588.1 278.2L589.4 282.6L590.0 285.1 M594.4 287.0L595.6 293.2 M611.3 216.3L613.2 218.8L616.9 218.8L617.5 216.3 M580.0 217.8L583.8 218.8L586.3 217.8 M697.0 300.7L691.4 302.6L687.6 305.1L687.0 310.1L688.9 316.4L690.1 323.9L692.6 325.1L697.0 323.3 M690.0 241.3L693.1 238.8L695.6 233.8L696.9 228.8L695.6 223.8L693.8 220.6L691.3 218.8L693.8 217.5L696.3 216.3 M701.9 216.3L703.1 219.4L705.0 218.8L705.6 216.3 M706.3 226.3L707.5 222.5L711.3 220.6L715.0 218.8L718.8 216.9L720.0 218.1L716.9 221.3L712.5 223.1L708.8 225.0L706.9 227.5Z M695.0 238.8L696.3 240.0L695.6 241.9Z M695.0 247.5L697.5 248.8L698.1 253.8L699.4 257.6L701.9 259.4L702.5 263.8L700.6 265.1L698.8 262.6L696.9 258.8L695.6 253.8L694.4 250.1Z M696.9 252.6L698.8 256.3L700.6 261.3 M690.0 263.8L692.5 266.3L693.8 268.8 M693.8 272.6L696.3 272.0L698.8 273.8L696.9 275.7L695.6 280.1L694.4 277.6Z M701.3 277.6L705.0 278.2L710.0 278.8 M703.1 271.3L704.4 273.8 M707.5 274.5L711.3 275.1L715.0 275.7L720.0 277.6L725.0 280.1L730.1 279.5L733.2 278.2L731.3 281.3L727.5 282.6L728.8 286.3L730.7 288.2L726.3 286.3L722.5 283.8L718.8 285.1L715.0 282.6L711.3 280.1L708.8 277.6Z M734.4 281.3L737.6 283.2 M739.4 284.5L741.3 285.1L743.8 288.2 M690.0 285.1L696.3 285.7L702.5 284.5 M690.0 301.4L695.0 300.1L698.1 297.0L702.5 293.2L705.6 292.6L706.9 289.5L710.0 290.1L713.8 290.7L715.0 295.1L717.5 297.0L720.0 292.6L720.7 288.2L722.5 290.1L723.8 295.1L726.3 300.1L730.1 305.1L732.6 308.9L733.8 313.9L733.2 318.9L731.3 323.9L730.1 327.6L728.8 330.8 M690.0 325.1L695.0 323.9L700.0 320.8L705.0 319.5L710.0 320.1L713.2 322.6L715.0 325.1L716.9 327.6L718.8 330.8 M787.6 241.9L791.4 243.2L793.3 246.3 M748.8 293.9L750.7 296.4 M761.3 298.2L764.5 296.4 M772.6 292.0L775.1 293.2 M746.3 302.0L749.4 304.5 M756.3 324.5L758.8 327.6L762.0 329.5 M831.3 216.3L833.2 220.0L836.3 223.8L839.4 227.5L842.6 231.3L846.3 235.0L850.1 239.4L852.0 243.8L852.6 246.3L856.3 248.2L861.3 250.1L866.3 251.9L871.4 255.1L875.1 258.2L877.6 260.7L880.1 262.6L883.2 260.7L885.1 261.3L883.9 265.1L883.2 268.8L881.4 272.6L880.1 278.2L881.4 282.6L883.2 286.3L885.1 290.1L887.0 293.9L890.1 295.7L893.3 298.2L892.6 306.4L891.4 316.4L890.1 325.1L888.2 330.8 M839.4 228.1L841.3 227.5L843.8 231.3L846.3 236.3L847.6 240.0L845.7 240.0L843.2 235.7L840.7 231.3Z M886.4 216.3L887.0 220.6L883.2 223.8L880.1 226.9L879.5 230.0L880.1 233.8L882.0 236.9L880.1 235.7L877.6 231.3L876.4 229.4L871.4 228.8L865.1 230.0L862.6 231.9L860.7 236.3L860.1 241.3L861.3 245.0L865.1 247.5L868.8 246.3L871.4 243.2L873.2 242.5L872.6 246.3L871.4 248.8L872.0 251.3L876.4 253.2L877.6 256.9L879.5 260.1L881.4 262.6 M885.1 261.3L888.9 258.8L892.0 256.3L893.6 256.3 M876.4 241.3L880.1 240.7L885.1 241.9L888.9 243.8L892.0 245.0L888.9 245.0L883.9 243.5L878.9 242.5Z M883.9 247.5L888.9 246.9L893.3 247.5 M883.2 236.9L885.1 239.4 M695.3 272.8L699.1 272.0 M696.6 275.0L697.6 280.0 M700.3 273.8L702.8 275.0 M704.1 271.3L705.3 274.4 M706.6 273.8L710.3 276.9 M709.1 282.8L711.6 281.3 M699.1 285.3L702.8 283.8 M713.5 280.7L716.0 281.9 M694.7 276.9L695.9 280.7 M697.8 261.9L699.7 257.5L701.6 259.4L700.9 262.5 M697.2 253.8L699.7 255.6"/><circle cx="570.8" cy="254.4" r="0.9" fill="#000"/><circle cx="616.9" cy="256.3" r="0.6" fill="#000"/><circle cx="662.6" cy="255.7" r="0.6" fill="#000"/><circle cx="619.4" cy="303.2" r="0.6" fill="#000"/><circle cx="621.9" cy="302.0" r="0.6" fill="#000"/><circle cx="703.8" cy="235.0" r="0.6" fill="#000"/><circle cx="800.1" cy="298.2" r="0.6" fill="#000"/><circle cx="868.2" cy="273.8" r="0.8" fill="#000"/>
<path d="M554.8 221V330" stroke="#fff" stroke-opacity="0.45" stroke-width="0.6" fill="none"/></g></g>
<g id="map3"><clipPath id="c3"><rect x="44.5" y="420.5" width="420" height="113.5"/></clipPath><g clip-path="url(#c3)"><rect x="44.5" y="420.5" width="420" height="113.5" fill="#f5e6be"/><path fill="#96be32" d="M44.6 420.5L58.8 420.5L55.0 424.0L51.3 427.8L47.5 430.3L44.6 430.9Z"/>
<path fill="#96be32" d="M44.6 435.3L50.0 435.9L56.3 437.8L58.8 440.9L55.0 444.0L51.3 445.3L47.5 447.8L44.6 446.5Z"/>
<path fill="#96be32" d="M60.0 430.3L66.3 425.9L71.3 427.1L68.8 431.5L63.8 434.0L60.7 433.4Z"/>
<path fill="#96be32" d="M73.8 420.5L107.6 420.5L110.1 425.3L109.5 431.5L106.3 436.5L102.6 442.8L98.8 449.7L95.1 446.8L95.1 443.4L90.1 447.8L87.6 451.5L91.3 455.3L92.6 459.1L87.6 460.9L77.5 462.2L68.8 460.9L62.5 457.8L62.5 452.8L66.3 447.8L65.0 444.0L68.8 440.9L76.3 439.0L73.8 435.3L68.8 434.7L72.5 431.5L77.5 432.8L81.3 429.6L86.9 429.0L83.8 425.9L76.3 426.5L73.2 424.0Z"/>
<path fill="#96be32" d="M98.2 450.9L106.3 450.3L106.3 456.6L102.0 457.8L98.8 454.1Z"/>
<path fill="#96be32" d="M108.2 446.5L110.1 442.8L112.6 437.8L117.6 434.0L125.1 431.5L130.1 427.8L137.6 424.6L140.1 426.5L143.9 430.3L148.9 432.8L152.6 431.5L157.0 434.0L157.0 442.8L152.6 445.3L152.6 448.4L148.9 450.3L143.9 449.7L138.9 450.9L135.1 449.7L132.6 452.8L132.0 457.8L134.5 461.6L135.1 466.6L132.6 469.1L130.1 468.1L126.4 468.6L121.4 469.4L116.3 470.9L113.8 469.1L110.7 466.3L108.2 463.4L106.3 459.7L112.0 459.1L116.3 457.8L117.6 454.7L113.8 453.4L110.1 454.1L107.6 451.5Z"/>
<path fill="#f5e6be" d="M120.1 447.8L123.9 446.8L127.6 448.4L126.4 450.3L121.4 450.0Z"/>
<path fill="#f5e6be" d="M137.0 437.8L138.9 438.4L138.2 440.9Z"/>
<path fill="#96be32" d="M138.9 420.5L157.0 420.5L157.0 427.8L152.6 426.5L147.6 430.3L142.6 427.8L138.9 425.3Z"/>
<path fill="#f5e6be" d="M145.1 426.5L147.6 425.9L148.3 428.4L145.8 429.0Z"/>
<path fill="#f5e6be" d="M150.1 432.8L153.3 431.5L153.9 434.7L151.4 435.9Z"/>
<path fill="#96be32" d="M89.4 462.2L92.6 461.6L93.2 463.8L90.1 464.1Z"/>
<path fill="#96be32" d="M95.1 461.9L98.8 461.9L98.6 464.1L95.3 464.1Z"/>
<path fill="#96be32" d="M101.3 462.8L104.5 462.6L104.1 464.7L101.6 464.7Z"/>
<path fill="#96be32" d="M140.1 461.6L143.9 461.3L143.6 463.4L140.4 463.7Z"/>
<path fill="#96be32" d="M44.6 460.3L50.0 462.1L53.8 464.0L58.8 467.8L65.0 469.6L75.0 468.4L90.1 467.1L97.6 469.0L101.3 472.1L96.9 475.3L90.1 475.5L83.8 472.8L77.5 474.0L81.3 479.0L90.1 481.5L100.1 480.5L105.1 480.9L115.1 479.7L127.6 479.0L131.4 476.5L133.2 472.8L136.4 471.8L138.9 474.0L138.9 482.8L135.1 486.5L127.6 485.3L120.1 489.0L115.1 486.5L110.1 485.9L102.6 488.4L95.1 489.0L86.3 487.2L82.6 491.5L77.5 489.0L71.3 489.0L69.4 492.8L73.8 496.6L77.5 497.8L76.3 504.1L75.0 507.8L70.0 509.1L66.3 504.1L62.5 501.6L58.8 499.1L55.0 501.6L52.5 497.8L50.0 500.3L44.6 495.3Z"/>
<path fill="#f5e6be" d="M88.8 475.9L95.1 475.3L100.1 474.7L101.3 477.2L92.6 477.2Z"/>
<path fill="#96be32" d="M47.5 509.1L52.5 502.8L56.3 504.1L62.5 509.1L67.5 512.8L72.5 515.3L73.2 520.3L70.0 524.1L65.0 521.6L58.8 517.8L52.5 515.3L48.8 514.1Z"/>
<path fill="#96be32" d="M71.9 526.0L76.3 524.1L78.8 527.8L75.7 530.3Z"/>
<path fill="#96be32" d="M77.5 521.6L83.8 519.1L90.1 514.1L92.6 510.3L97.6 509.7L102.6 514.1L103.8 520.3L107.6 525.3L102.6 526.6L95.1 527.8L87.6 529.1L81.3 529.7L78.8 525.3Z"/>
<path fill="#96be32" d="M103.2 492.2L110.1 490.3L120.1 491.5L127.6 490.3L135.1 491.5L138.9 495.3L141.4 500.3L143.9 506.6L146.4 512.8L148.9 519.1L150.1 524.1L148.9 529.1L152.6 534.7L122.6 534.7L117.6 529.1L116.3 524.1L120.1 521.6L127.6 521.6L132.6 517.8L130.1 512.8L126.4 507.8L122.6 504.1L115.1 502.8L107.6 502.8L105.1 497.8Z"/>
<path fill="#deb887" d="M78.8 494.1L83.8 492.2L90.7 493.4L92.6 496.6L91.3 500.3L83.8 500.3L80.7 497.2Z"/>
<path fill="#96be32" d="M150.0 420.5L210.1 420.5L215.1 422.8L212.6 427.8L211.3 432.8L215.1 436.5L216.3 442.8L212.6 445.3L208.8 444.0L206.3 440.9L202.6 439.0L200.1 440.9L193.8 440.9L192.6 439.7L187.5 442.8L185.0 441.5L182.5 437.8L179.4 433.4L181.9 440.3L186.3 446.5L182.5 449.0L177.5 448.4L174.4 450.3L175.0 455.3L170.0 452.8L166.3 451.5L163.8 455.3L167.5 457.2L165.0 459.1L158.8 459.7L155.0 456.6L150.0 455.9Z"/>
<path fill="#f5e6be" d="M156.3 425.9L162.5 425.3L166.3 427.8L163.8 431.5L158.8 432.1L155.6 429.6Z"/>
<path fill="#f5e6be" d="M151.9 444.7L156.3 442.8L157.5 445.9L154.4 449.0L151.9 447.8Z"/>
<path fill="#f5e6be" d="M153.8 450.9L160.0 450.3L163.1 454.1L158.8 455.9L155.0 454.1Z"/>
<path fill="#f5e6be" d="M150.0 431.5L153.8 432.8L153.1 436.5L150.0 436.5Z"/>
<path fill="#f5e6be" d="M195.1 420.5L201.3 420.5L200.1 424.0L196.3 424.6Z"/>
<path fill="#96be32" d="M217.6 422.8L225.1 420.5L260.1 420.5L260.1 440.3L257.6 441.5L253.9 437.8L250.1 434.0L245.1 431.5L240.1 430.3L237.6 427.8L231.4 426.5L225.1 430.3L220.1 432.8L217.6 429.0Z"/>
<path fill="#f5e6be" d="M253.9 420.5L260.1 420.5L260.1 423.4L255.1 423.4Z"/>
<path fill="#deb887" d="M220.1 434.7L226.3 432.1L232.6 429.6L235.1 432.8L231.4 436.5L225.1 437.8Z"/>
<path fill="#96be32" d="M191.3 452.8L196.3 450.9L200.1 454.1L197.6 457.8L192.6 458.4L190.1 455.9Z"/>
<path fill="#96be32" d="M227.6 457.8L232.6 454.1L237.6 454.1L240.1 450.3L238.9 446.5L241.4 445.9L243.2 450.3L242.0 455.3L237.6 460.3L232.6 462.8L228.8 461.6Z"/>
<path fill="#96be32" d="M247.6 442.8L249.5 440.9L250.8 444.7L248.9 445.9Z"/>
<path fill="#96be32" d="M216.3 447.8L218.8 445.9L220.7 447.8L218.2 449.7Z"/>
<path fill="#96be32" d="M245.1 462.8L250.1 460.3L253.9 456.6L260.1 452.8L260.1 471.6L256.4 469.1L252.6 464.1L248.9 466.6L243.9 467.8L242.6 464.1Z"/>
<path fill="#96be32" d="M168.8 470.3L172.5 465.3L178.8 462.8L185.0 460.9L190.1 462.8L191.3 467.8L200.1 466.5L210.1 465.9L217.6 466.5L220.1 464.0L225.1 464.6L237.6 464.0L242.6 466.5L247.6 470.3L250.1 474.0L245.1 472.8L237.6 474.0L225.1 474.0L221.3 476.5L220.1 482.8L225.1 484.0L237.6 482.8L247.6 484.0L253.9 487.8L260.1 488.8L260.1 500.6L257.6 504.1L252.6 506.6L247.6 504.1L240.1 500.3L232.6 497.8L225.1 497.2L220.1 496.6L212.6 495.3L205.1 495.9L200.1 494.1L195.1 494.1L193.8 489.0L196.3 484.0L197.6 480.3L192.6 477.8L185.0 476.5L178.8 477.8L173.8 480.3L170.0 479.0L168.8 475.3Z"/>
<path fill="#96be32" d="M215.7 525.3L222.6 524.1L230.1 526.0L231.4 529.1L226.3 531.6L223.8 534.7L217.6 534.7L216.3 529.1Z"/>
<path fill="#96be32" d="M245.1 526.6L248.9 524.1L253.9 525.3L256.4 530.3L258.9 534.7L246.4 534.7L244.5 530.3Z"/>
<path fill="#96be32" d="M195.1 525.3L197.6 524.1L198.2 526.6L195.7 527.8Z"/>
<path fill="#96be32" d="M155.0 457.8L160.0 455.3L166.3 456.5L167.5 459.0L162.5 460.3L157.5 459.6Z"/>
<path fill="#beeb5f" d="M200.7 487.2L203.8 486.5L205.1 489.7L201.3 490.3Z"/>
<path fill="#beeb5f" d="M227.0 489.0L230.1 487.8L235.1 492.8L232.6 494.7L228.8 492.2Z"/>
<path fill="#deb887" d="M210.1 501.6L213.8 500.1L220.1 502.2L225.1 504.1L222.6 505.9L216.3 504.7L211.3 503.4Z"/>
<path fill="#96be32" d="M132.0 471.9L137.3 471.9L142.6 473.2L146.6 475.9L151.9 477.2L155.2 479.8L154.5 486.5L155.9 490.5L158.5 485.2L163.8 484.5L167.8 485.8L171.8 487.8L177.1 486.5L182.4 489.1L189.1 493.1L191.7 498.4L190.4 503.7L185.1 505.1L182.4 510.4L177.1 514.4L173.1 512.4L169.1 515.7L165.2 514.4L159.8 517.0L151.9 518.4L150.5 522.3L146.6 521.0L141.2 518.4L133.3 514.4L128.0 509.1L125.3 503.7L120.0 502.4L120.0 471.9Z"/>
<path fill="#f5e6be" d="M139.9 477.8L143.9 476.5L145.2 478.5L141.2 479.8Z"/>
<path fill="#f5e6be" d="M134.6 485.2L137.3 483.8L139.9 487.8L142.6 493.1L141.9 495.8L138.6 493.1L135.9 489.1Z"/>
<path fill="#f5e6be" d="M177.8 495.8L181.8 492.5L184.4 494.4L183.7 503.7L181.1 513.0L177.8 513.0L176.8 505.1Z"/>
<path fill="#96be32" d="M120.0 525.0L133.3 522.3L141.2 525.0L146.6 527.6L157.2 528.3L163.8 525.0L173.1 522.3L179.8 519.7L183.7 525.0L190.4 527.6L194.4 525.0L199.7 526.3L206.3 530.3L215.6 533.0L220.0 533.6L220.0 535.6L120.0 535.6Z"/>
<path fill="#f5e6be" d="M141.2 531.6L146.6 532.3L145.2 535.6L139.9 535.6Z"/>
<path fill="#96be32" d="M120.0 450.6L128.0 449.3L133.3 453.3L134.6 459.9L130.6 463.9L124.0 465.2L120.0 463.9Z"/>
<path fill="#96be32" d="M139.9 461.2L143.2 461.9L142.6 463.9Z"/>
<path fill="#96be32" d="M190.4 453.3L195.7 450.6L199.7 453.3L197.0 457.3L191.7 457.9Z"/>
<path fill="#96be32" d="M260.0 420.0L465.0 420.0L465.0 535.0L260.0 535.0Z"/>
<path fill="#f5e6be" d="M260.0 435.3L267.5 432.8L272.5 434.0L273.8 442.8L275.0 446.5L267.5 447.2L260.0 445.3Z"/>
<path fill="#f5e6be" d="M282.5 435.9L287.5 434.0L293.8 435.3L295.7 438.4L290.0 439.7L284.4 439.0Z"/>
<path fill="#f5e6be" d="M296.3 435.3L302.6 432.8L307.6 429.6L315.1 431.5L322.6 434.0L327.6 437.2L335.1 437.8L340.1 437.2L342.6 431.5L347.6 427.8L352.6 424.0L356.4 421.5L363.9 420.5L372.6 420.5L370.1 424.0L372.6 429.0L377.0 432.8L377.0 436.5L370.1 435.9L363.9 437.8L360.1 442.2L366.4 443.4L372.6 440.3L377.0 439.0L377.0 443.4L368.9 445.3L363.9 450.3L355.1 454.1L350.1 456.6L345.1 450.3L337.6 445.3L330.1 444.0L322.6 445.3L312.6 448.4L301.3 447.8L295.0 451.5L285.0 453.4L276.3 451.5L275.0 447.2L281.3 445.3L288.8 444.0L295.7 440.9L297.5 438.4Z"/>
<path fill="#beeb5f" d="M298.8 420.5L350.1 420.5L347.6 423.4L340.1 424.6L330.1 427.8L320.1 426.5L310.1 424.0L302.6 424.6Z"/>
<path fill="#20b2aa" d="M320.1 420.5L328.8 420.5L327.6 422.8L323.8 423.8L320.7 422.1Z"/>
<path fill="#beeb5f" d="M307.6 457.2L311.3 454.1L313.8 454.7L311.9 459.1L309.4 460.9Z"/>
<path fill="#beeb5f" d="M337.0 455.9L340.1 454.1L343.2 457.2L340.1 459.1Z"/>
<path fill="#beeb5f" d="M366.4 452.8L371.4 449.7L377.0 449.0L377.0 457.8L371.4 457.8L367.0 455.9Z"/>
<path fill="#f5e6be" d="M353.9 462.8L357.0 461.6L358.2 464.1L355.7 465.9Z"/>
<path fill="#f5e6be" d="M362.0 462.8L367.6 461.6L372.6 464.1L371.4 466.6L365.1 465.9Z"/>
<path fill="#f5e6be" d="M293.8 467.8L297.5 467.2L305.1 469.7L303.8 471.6L296.3 472.2L293.8 470.3Z"/>
<path fill="#beeb5f" d="M295.0 479.1L302.6 475.3L315.1 472.2L322.6 474.1L330.1 471.6L340.1 469.7L350.1 469.1L355.1 470.9L352.6 474.1L345.1 475.3L337.6 477.8L330.1 479.1L322.6 481.6L315.1 484.1L308.8 484.1L303.8 482.2L297.5 481.6Z"/>
<path fill="#f5e6be" d="M260.0 474.0L267.5 475.3L276.3 474.0L285.0 477.8L287.5 484.0L282.5 489.0L292.5 491.5L297.5 495.3L306.3 502.8L312.6 501.6L318.8 499.1L322.6 504.1L327.6 509.1L332.6 511.6L336.3 506.6L341.4 508.4L347.6 505.3L353.9 502.8L360.1 506.6L367.6 509.1L372.6 506.6L377.0 506.6L377.0 534.7L260.0 534.7Z"/>
<path fill="#96be32" d="M260.0 499.1L265.0 500.3L266.3 504.1L260.0 506.6Z"/>
<path fill="#96be32" d="M288.2 507.8L291.9 506.6L293.2 509.1L290.0 510.3Z"/>
<path fill="#96be32" d="M267.5 529.1L273.8 528.5L277.5 532.8L268.8 534.7Z"/>
<path fill="#96be32" d="M341.4 531.6L346.4 529.1L350.1 534.7L341.4 534.7Z"/>
<path fill="#96be32" d="M362.6 534.7L368.9 527.8L377.0 524.1L377.0 534.7Z"/>
<path fill="#96be32" d="M335.1 522.2L340.1 521.6L340.1 523.5L335.7 523.8Z"/>
<path fill="#96be32" d="M367.6 509.1L371.4 507.8L372.0 510.9L368.9 512.2Z"/>
<path fill="#96be32" d="M280.0 484.0L285.0 482.8L292.5 484.0L301.3 491.5L297.5 491.5L292.5 490.3L285.0 489.0Z"/>
<path fill="#96be32" d="M260.0 489.0L267.5 488.4L273.8 489.7L271.3 492.2L263.8 492.8L260.0 492.2Z"/>
<path fill="#f5e6be" d="M312.6 492.8L318.8 490.3L325.1 489.7L328.8 496.6L327.6 499.7L321.3 497.8L315.1 495.3Z"/>
<path fill="#f5e6be" d="M328.8 489.0L332.6 487.8L335.1 489.7L331.3 490.9Z"/>
<path fill="#f5e6be" d="M350.1 479.0L360.1 476.5L377.0 474.0L377.0 496.6L372.6 495.3L367.6 491.5L362.6 489.0L356.4 487.8L360.1 485.3L363.9 484.0L357.6 481.5Z"/>
<path fill="#f5e6be" d="M360.0 420.5L376.3 420.5L372.5 424.0L373.8 430.3L378.8 435.3L380.0 441.5L375.0 444.0L367.5 444.0L360.0 445.3Z"/>
<path fill="#96be32" d="M360.0 427.8L366.3 426.5L365.0 429.6L360.0 430.9Z"/>
<path fill="#96be32" d="M360.0 440.3L366.3 437.8L373.8 436.5L376.3 439.0L370.0 442.2L363.8 443.4Z"/>
<path fill="#f5e6be" d="M360.0 445.3L365.0 446.5L365.0 450.3L360.0 452.8Z"/>
<path fill="#f5e6be" d="M378.8 421.5L387.5 420.5L386.9 424.0L382.5 425.9L378.8 425.3Z"/>
<path fill="#f5e6be" d="M390.0 425.9L392.5 425.3L392.8 430.3L390.7 431.5Z"/>
<path fill="#f5e6be" d="M397.5 431.5L400.1 430.9L400.7 434.7L398.2 438.4L396.9 435.9Z"/>
<path fill="#f5e6be" d="M393.8 456.6L397.5 452.8L403.8 452.2L410.1 454.7L413.2 457.8L410.1 460.9L402.6 460.9L396.3 461.6Z"/>
<path fill="#f5e6be" d="M362.5 463.4L367.5 462.2L372.5 464.1L371.3 466.6L365.0 465.9Z"/>
<path fill="#f5e6be" d="M378.8 464.1L382.5 462.2L385.7 462.8L382.5 467.2L378.8 468.4Z"/>
<path fill="#f5e6be" d="M410.1 437.8L413.8 435.3L417.6 439.0L421.3 444.0L423.8 449.0L421.3 451.5L416.3 450.3L411.9 446.5L410.7 442.2Z"/>
<path fill="#f5e6be" d="M422.0 455.3L426.3 453.4L432.6 454.7L440.1 458.4L443.9 461.6L441.4 464.1L435.1 463.4L427.6 461.6L422.6 459.1Z"/>
<path fill="#f5e6be" d="M430.1 421.5L435.1 420.5L457.6 420.5L456.4 425.3L452.6 429.0L450.1 432.8L451.4 439.0L447.6 440.9L440.1 440.9L433.8 442.2L432.0 439.0L435.1 434.0L433.8 430.3L435.1 426.5Z"/>
<path fill="#96be32" d="M437.6 420.5L448.9 420.5L447.6 424.6L442.6 426.5L438.8 424.6Z"/>
<path fill="#f5e6be" d="M425.1 444.0L431.3 442.8L432.6 447.8L435.1 450.9L430.1 451.5L426.3 449.0Z"/>
<path fill="#f5e6be" d="M445.1 450.3L450.1 449.0L455.1 451.5L464.5 451.5L464.5 460.3L458.9 462.2L455.1 464.1L451.4 462.8L452.6 457.8L447.6 456.6L446.4 452.8Z"/>
<path fill="#f5e6be" d="M458.9 440.9L464.5 442.2L464.5 446.5L460.1 445.9Z"/>
<path fill="#f5e6be" d="M360.0 475.3L372.5 474.1L391.3 475.3L402.6 475.3L401.3 480.3L403.8 484.1L412.6 487.8L420.1 491.6L427.6 495.4L432.6 499.1L433.8 501.6L427.6 500.4L417.6 497.9L407.6 496.6L397.5 500.4L390.0 501.6L380.0 499.1L372.5 495.4L365.0 491.6L360.0 489.1Z"/>
<path fill="#96be32" d="M360.0 484.1L363.8 486.0L360.0 487.8Z"/>
<path fill="#f5e6be" d="M446.4 477.8L450.1 475.3L452.6 476.0L447.6 479.7Z"/>
<path fill="#f5e6be" d="M440.1 473.4L442.0 472.8L442.0 475.3L440.1 475.3Z"/>
<path fill="#beeb5f" d="M366.3 451.5L372.5 449.0L382.5 446.8L386.9 448.4L386.3 452.8L378.8 455.9L370.0 457.8L366.3 455.3Z"/>
<path fill="#beeb5f" d="M410.1 469.7L415.1 467.8L422.6 469.1L428.2 471.6L432.6 472.8L431.3 474.7L422.6 472.8L412.6 472.2Z"/>
<path fill="#beeb5f" d="M400.7 467.8L403.8 466.8L405.7 469.1L402.6 470.3Z"/>
<path fill="#beeb5f" d="M396.3 421.5L401.3 420.9L403.8 425.3L401.3 427.8L397.5 424.0Z"/>
<path fill="#f5e6be" d="M420.1 477.8L422.6 477.8L422.6 479.1L420.1 479.1Z"/>
<path fill="#f5e6be" d="M427.6 477.8L430.1 477.8L430.1 479.1L427.6 479.1Z"/>
<path fill="#f5e6be" d="M360.0 507.2L367.5 507.8L375.0 507.2L379.4 510.3L378.8 515.3L382.5 519.1L390.0 522.2L397.5 522.2L392.5 526.0L382.5 525.6L375.0 524.3L370.0 527.8L363.8 531.8L360.0 534.7Z"/>
<path fill="#96be32" d="M367.5 509.7L371.3 508.4L372.5 510.9L368.8 512.2Z"/>
<path fill="#f5e6be" d="M385.0 532.2L388.8 530.3L392.5 534.7L385.0 534.7Z"/>
<path fill="#f5e6be" d="M402.6 527.8L410.1 525.3L417.6 522.8L416.3 527.8L417.6 531.6L422.6 525.3L425.1 516.6L430.1 511.6L435.1 509.1L438.8 510.9L435.1 515.3L442.6 519.1L450.1 517.8L456.4 520.3L461.4 516.6L464.5 514.1L464.5 534.7L406.3 534.7Z"/>
<path fill="#f5e6be" d="M445.7 491.5L452.6 487.8L458.9 486.5L464.5 487.8L464.5 494.1L460.1 495.3L455.1 494.1L450.1 496.6Z"/>
<path fill="#f5e6be" d="M453.2 499.7L457.6 497.8L460.1 501.6L456.4 504.1Z"/>
<path fill="none" stroke="#000" stroke-width="0.85" stroke-linejoin="round" stroke-linecap="round" d="M43.3 460.3L47.3 462.2L52.9 463.4L56.0 466.6L59.8 469.1L64.2 470.3L66.0 472.8L66.7 476.6L67.9 478.5L73.5 479.7L78.5 481.6L82.3 484.1L84.8 486.6L85.1 490.3L82.9 492.8L81.1 496.0L79.8 500.4L78.5 505.4L76.7 509.1L72.3 511.0L69.2 514.1L67.9 519.1L65.4 524.1L62.3 528.5L59.8 529.1L57.3 527.9L58.5 530.4L59.1 534.8 M66.0 476.6L65.4 478.5L67.3 479.1 M43.5 450.3L46.0 451.5L48.5 451.5 M52.9 454.1L54.1 457.2 M116.1 420.3L121.1 421.5L123.6 422.1L119.8 423.4L118.0 425.9L116.1 429.0L113.6 432.8L111.1 435.9L108.6 438.4L106.7 442.8L105.5 447.2L106.1 451.5L105.5 456.6L106.7 460.3L109.2 464.1L111.7 466.6L114.8 469.7L117.3 471.3L122.4 469.7L127.4 468.8L131.1 468.4L133.0 470.9L135.5 471.8L136.7 474.1L136.1 477.8L138.0 481.6L139.9 485.3L141.1 490.3L141.1 495.4L139.9 500.4L141.1 505.4L143.0 510.4L144.3 515.4L146.1 520.4L147.4 525.4L148.6 528.5L152.4 527.9L158.0 526.6 M123.6 422.1L128.6 422.5L136.1 421.8L138.0 424.0L137.4 426.5L139.9 428.4L143.6 430.3L147.4 432.8L151.1 431.5L158.0 432.1 M141.1 421.5L143.6 422.8 M151.1 421.8L154.9 424.0L158.0 425.0 M151.0 429.0L156.0 431.5L161.0 432.8L163.5 432.1L166.0 429.0L167.9 425.3L167.3 421.5L163.5 420.9L158.5 421.8L153.5 420.9 M163.5 434.7L166.0 440.3L169.8 447.8L173.5 455.3L176.0 459.7L176.7 462.2L180.4 462.2L184.8 460.9L184.2 465.3L181.7 470.3L177.9 475.3L174.2 480.3L171.0 485.3L170.4 490.3L171.7 495.4L172.3 499.7L169.8 502.2L166.6 505.4L166.0 509.1L164.8 512.9L162.9 516.6L160.4 521.6L156.6 526.0L151.0 527.9 M164.8 434.0L167.9 439.7L171.7 447.2L175.4 454.7L177.3 458.4L181.0 457.8L187.3 454.7L192.3 450.3L195.4 445.9L194.2 442.8L191.7 440.9L188.5 442.2L185.4 440.9L183.5 437.2L181.7 434.7L182.9 433.4L185.4 435.9L187.3 439.0L191.1 439.0L193.6 440.3L198.6 440.9L203.6 441.5L206.7 445.3L209.8 446.5L211.1 451.5L213.0 456.6L214.8 461.6L216.1 465.3L218.0 464.1L219.2 457.8L221.1 453.4L226.1 449.0L229.2 446.5L232.4 445.9L234.2 448.4L236.7 452.8L238.6 454.1L240.5 458.4L241.1 464.1L243.6 469.1L246.1 472.8L248.0 476.6L249.9 480.3L251.1 479.1L247.4 472.8L244.2 466.6L242.4 462.8L243.0 459.1L246.1 460.9L249.9 463.4L252.4 460.3L253.0 456.6L250.5 452.8L249.9 449.7L252.4 447.2L256.1 445.9L261.1 443.4L264.9 439.0L266.8 434.0L266.1 429.0L264.9 425.3L268.0 421.5 M218.6 464.1L220.5 465.9L220.5 468.4L218.6 469.1L218.0 466.6Z M236.7 469.7L241.1 470.9L246.1 476.6L251.1 484.1L254.9 487.8L251.1 487.2L246.1 482.8L241.1 476.6L237.4 472.2Z M249.9 485.3L257.4 487.8L268.0 489.7 M253.0 475.3L258.6 470.9L263.0 468.4L264.9 472.8L263.6 477.8L259.9 481.6L255.5 480.3L253.6 477.2Z M252.4 449.0L254.3 449.0L254.3 451.5L252.4 451.5Z M177.3 502.2L179.8 497.9L182.9 494.1L184.8 496.0L184.5 501.6L182.9 507.9L181.0 512.2L177.9 513.5L176.7 509.1Z M162.3 477.8L164.8 477.2L165.4 479.7L162.9 480.3Z M159.1 482.2L160.4 486.6L161.0 489.1 M165.4 491.0L166.6 497.2 M182.3 420.3L184.2 422.8L187.9 422.8L188.5 420.3 M151.0 421.8L154.8 422.8L157.3 421.8 M268.0 504.7L262.4 506.6L258.6 509.1L258.0 514.1L259.9 520.4L261.1 527.9L263.6 529.1L268.0 527.3 M261.0 445.3L264.1 442.8L266.6 437.8L267.9 432.8L266.6 427.8L264.8 424.6L262.3 422.8L264.8 421.5L267.3 420.3 M272.9 420.3L274.1 423.4L276.0 422.8L276.6 420.3 M277.3 430.3L278.5 426.5L282.3 424.6L286.0 422.8L289.8 420.9L291.0 422.1L287.9 425.3L283.5 427.1L279.8 429.0L277.9 431.5Z M266.0 442.8L267.3 444.0L266.6 445.9Z M266.0 451.5L268.5 452.8L269.1 457.8L270.4 461.6L272.9 463.4L273.5 467.8L271.6 469.1L269.8 466.6L267.9 462.8L266.6 457.8L265.4 454.1Z M267.9 456.6L269.8 460.3L271.6 465.3 M261.0 467.8L263.5 470.3L264.8 472.8 M264.8 476.6L267.3 476.0L269.8 477.8L267.9 479.7L266.6 484.1L265.4 481.6Z M272.3 481.6L276.0 482.2L281.0 482.8 M274.1 475.3L275.4 477.8 M278.5 478.5L282.3 479.1L286.0 479.7L291.0 481.6L296.0 484.1L301.1 483.5L304.2 482.2L302.3 485.3L298.5 486.6L299.8 490.3L301.7 492.2L297.3 490.3L293.5 487.8L289.8 489.1L286.0 486.6L282.3 484.1L279.8 481.6Z M305.4 485.3L308.6 487.2 M310.4 488.5L312.3 489.1L314.8 492.2 M261.0 489.1L267.3 489.7L273.5 488.5 M261.0 505.4L266.0 504.1L269.1 501.0L273.5 497.2L276.6 496.6L277.9 493.5L281.0 494.1L284.8 494.7L286.0 499.1L288.5 501.0L291.0 496.6L291.7 492.2L293.5 494.1L294.8 499.1L297.3 504.1L301.1 509.1L303.6 512.9L304.8 517.9L304.2 522.9L302.3 527.9L301.1 531.6L299.8 534.8 M261.0 529.1L266.0 527.9L271.0 524.8L276.0 523.5L281.0 524.1L284.2 526.6L286.0 529.1L287.9 531.6L289.8 534.8 M358.6 445.9L362.4 447.2L364.3 450.3 M319.8 497.9L321.7 500.4 M332.3 502.2L335.5 500.4 M343.6 496.0L346.1 497.2 M317.3 506.0L320.4 508.5 M327.3 528.5L329.8 531.6L333.0 533.5 M402.3 420.3L404.2 424.0L407.3 427.8L410.4 431.5L413.6 435.3L417.3 439.0L421.1 443.4L423.0 447.8L423.6 450.3L427.3 452.2L432.3 454.1L437.3 455.9L442.4 459.1L446.1 462.2L448.6 464.7L451.1 466.6L454.2 464.7L456.1 465.3L454.9 469.1L454.2 472.8L452.4 476.6L451.1 482.2L452.4 486.6L454.2 490.3L456.1 494.1L458.0 497.9L461.1 499.7L464.3 502.2L463.6 510.4L462.4 520.4L461.1 529.1L459.2 534.8 M410.4 432.1L412.3 431.5L414.8 435.3L417.3 440.3L418.6 444.0L416.7 444.0L414.2 439.7L411.7 435.3Z M457.4 420.3L458.0 424.6L454.2 427.8L451.1 430.9L450.5 434.0L451.1 437.8L453.0 440.9L451.1 439.7L448.6 435.3L447.4 433.4L442.4 432.8L436.1 434.0L433.6 435.9L431.7 440.3L431.1 445.3L432.3 449.0L436.1 451.5L439.8 450.3L442.4 447.2L444.2 446.5L443.6 450.3L442.4 452.8L443.0 455.3L447.4 457.2L448.6 460.9L450.5 464.1L452.4 466.6 M456.1 465.3L459.9 462.8L463.0 460.3L464.6 460.3 M447.4 445.3L451.1 444.7L456.1 445.9L459.9 447.8L463.0 449.0L459.9 449.0L454.9 447.5L449.9 446.5Z M454.9 451.5L459.9 450.9L464.3 451.5 M454.2 440.9L456.1 443.4 M266.3 476.8L270.1 476.0 M267.6 479.0L268.6 484.0 M271.3 477.8L273.8 479.0 M275.1 475.3L276.3 478.4 M277.6 477.8L281.3 480.9 M280.1 486.8L282.6 485.3 M270.1 489.3L273.8 487.8 M284.5 484.7L287.0 485.9 M265.7 480.9L266.9 484.7 M268.8 465.9L270.7 461.5L272.6 463.4L271.9 466.5 M268.2 457.8L270.7 459.6"/><circle cx="141.8" cy="458.4" r="0.9" fill="#000"/><circle cx="187.9" cy="460.3" r="0.6" fill="#000"/><circle cx="233.6" cy="459.7" r="0.6" fill="#000"/><circle cx="190.4" cy="507.2" r="0.6" fill="#000"/><circle cx="192.9" cy="506.0" r="0.6" fill="#000"/><circle cx="274.8" cy="439.0" r="0.6" fill="#000"/><circle cx="371.1" cy="502.2" r="0.6" fill="#000"/><circle cx="439.2" cy="477.8" r="0.8" fill="#000"/></g></g>
<g id="map4"><clipPath id="c4"><rect x="473.5" y="420.5" width="420" height="113.5"/></clipPath><g clip-path="url(#c4)"><rect x="473.5" y="420.5" width="420" height="113.5" fill="#ffffff"/><path fill="#ffa500" d="M476.9 424.0H480.0V427.8H476.9ZM538.2 420.3H553.2V423.4H538.2ZM543.8 423.4H547.6V427.8H543.8ZM521.3 428.0H525.7V430.3H521.3ZM523.8 429.6H530.1V434.0H523.8ZM518.2 434.0H523.8V435.9H518.2ZM532.0 429.6H535.7V435.9H532.0ZM535.7 428.0H538.2V430.3H535.7ZM542.6 430.3H547.0V435.9H542.6ZM538.2 435.9H541.3V439.7H538.2ZM570.1 430.3H576.4V433.8H570.1ZM503.2 442.2H507.5V445.3H503.2ZM509.4 442.2H515.1V445.3H509.4ZM511.9 440.0H518.2V442.5H511.9ZM500.7 444.7H511.9V449.0H500.7ZM500.7 448.4H506.3V451.5H500.7ZM496.9 450.9H503.2V454.1H496.9ZM514.8 455.9H518.2V459.1H514.8ZM483.1 467.2H486.3V469.7H483.1ZM486.0 469.9H495.0V472.8H486.0ZM492.5 475.0H500.7V482.8H492.5ZM488.8 477.8H492.5V482.8H488.8ZM486.0 480.3H488.8V482.8H486.0ZM491.9 482.8H496.9V486.0H491.9ZM503.2 475.0H506.9V477.8H503.2ZM509.0 472.8H515.1V475.0H509.0ZM514.8 469.9H518.2V472.8H514.8ZM506.9 493.5H511.9V500.4H506.9ZM511.9 491.0H521.1V501.0H511.9ZM543.8 493.0H547.0V495.9H543.8ZM547.0 495.9H556.4V499.1H547.0ZM547.0 499.1H550.1V500.9H547.0ZM556.4 499.1H565.1V501.3H556.4ZM559.1 501.3H562.2V504.7H559.1ZM530.1 505.1H532.0V507.2H530.1ZM530.1 507.2H536.1V509.9H530.1ZM547.0 507.2H550.1V509.9H547.0ZM562.0 507.2H565.1V509.9H562.0ZM568.2 505.1H570.1V507.2H568.2ZM570.1 509.9H573.9V511.8H570.1ZM568.2 528.1H573.9V531.0H568.2ZM538.2 533.8H541.3V534.7H538.2ZM585.1 533.8H587.0V534.7H585.1ZM596.9 420.9H605.0V423.8H596.9ZM598.8 428.0H603.2V430.0H598.8ZM652.0 420.3H666.4V421.0H652.0ZM660.7 420.9H664.1V423.8H660.7ZM672.0 424.0H676.1V427.8H672.0ZM658.2 430.0H663.9V435.9H658.2ZM655.1 433.8H658.2V435.9H655.1ZM683.9 430.0H687.0V433.8H683.9ZM687.0 456.2H693.3V460.9H687.0ZM603.2 467.2H609.0V469.9H603.2ZM628.2 469.9H634.1V472.8H628.2ZM620.1 472.8H626.1V475.0H620.1ZM588.1 477.8H591.3V479.7H588.1ZM609.0 482.8H614.0V486.0H609.0ZM640.1 475.0H643.0V479.7H640.1ZM634.1 477.8H640.1V480.3H634.1ZM631.3 480.3H638.2V482.8H631.3ZM628.2 482.8H637.8V488.5H628.2ZM628.2 488.5H634.1V490.6H628.2ZM655.1 477.8H661.1V480.0H655.1ZM652.0 487.8H661.1V490.6H652.0ZM658.2 490.6H661.1V493.5H658.2ZM658.2 493.1H667.0V496.0H658.2ZM599.0 491.0H602.5V500.4H599.0ZM602.5 492.8H605.0V496.0H602.5ZM631.9 500.9H646.1V504.7H631.9ZM638.2 498.8H646.1V501.3H638.2ZM638.2 504.1H655.1V506.6H638.2ZM646.1 500.9H655.1V509.1H646.1ZM648.8 506.6H667.0V511.6H648.8ZM663.9 504.7H667.0V507.2H663.9ZM658.2 509.1H670.1V515.3H658.2ZM661.4 515.3H669.5V521.6H661.4ZM658.2 515.3H661.4V517.8H658.2ZM669.5 509.9H676.1V517.2H669.5ZM676.1 511.8H682.0V516.0H676.1ZM670.1 507.2H672.2V509.9H670.1ZM670.1 495.9H672.2V499.1H670.1ZM672.2 499.1H676.1V504.7H672.2ZM623.2 517.8H631.9V521.6H623.2ZM626.1 516.0H631.9V518.1H626.1ZM631.9 511.8H634.1V516.0H631.9ZM640.1 516.0H643.0V521.6H640.1ZM648.8 517.8H652.0V521.6H648.8ZM596.9 527.8H603.2V534.1H596.9ZM603.2 531.0H605.0V534.1H603.2ZM605.0 527.8H609.0V534.1H605.0ZM609.0 531.0H611.0V534.1H609.0ZM678.2 531.0H683.9V534.1H678.2ZM585.0 533.8H588.1V534.7H585.0ZM683.9 533.8H687.0V534.7H683.9ZM731.1 420.9H734.1V424.0H731.1ZM736.9 420.9H757.0V424.0H736.9ZM745.1 424.0H748.8V427.8H745.1ZM763.0 420.9H766.1V424.0H763.0ZM774.1 420.9H778.0V424.0H774.1ZM690.0 456.2H692.8V460.9H690.0ZM706.9 466.9H711.0V469.9H706.9ZM740.1 454.1H743.2V456.6H740.1ZM736.9 456.2H743.2V459.1H736.9ZM766.1 454.1H769.1V456.2H766.1ZM748.8 458.8H751.1V460.9H748.8ZM748.8 464.7H751.1V466.9H748.8ZM760.1 460.9H766.1V464.7H760.1ZM763.0 464.7H769.1V466.9H763.0ZM745.1 469.9H748.8V472.8H745.1ZM740.1 472.8H745.1V475.0H740.1ZM755.1 472.8H757.2V475.0H755.1ZM757.2 469.9H783.9V472.8H757.2ZM778.0 466.9H780.1V469.9H778.0ZM772.0 472.8H774.1V475.0H772.0ZM734.1 486.0H740.1V487.8H734.1ZM769.1 491.0H774.1V493.1H769.1ZM804.1 491.0H807.0V493.1H804.1ZM728.2 501.0H731.1V504.0H728.2ZM728.2 500.9H731.1V504.7H728.2ZM748.8 516.0H751.1V518.1H748.8ZM743.2 517.8H745.1V522.0H743.2ZM736.9 522.0H740.1V523.8H736.9ZM705.0 523.8H706.9V527.8H705.0ZM731.1 527.8H734.1V531.0H731.1ZM745.1 527.8H748.8V534.1H745.1ZM748.8 531.0H755.1V534.1H748.8ZM757.2 527.8H760.1V531.0H757.2ZM824.0 420.3H831.3V423.8H824.0ZM830.1 423.8H833.2V427.8H830.1ZM836.1 420.9H839.1V423.8H836.1ZM853.2 424.0H857.0V427.8H853.2ZM851.1 428.0H853.0V430.0H851.1ZM868.2 434.0H873.9V440.0H868.2ZM882.0 435.9H888.0V440.0H882.0ZM858.8 444.9H862.0V449.0H858.8ZM857.2 454.1H862.0V455.9H857.2ZM813.2 442.2H821.9V444.9H813.2ZM810.0 444.9H813.2V449.7H810.0ZM806.9 449.0H816.0V455.9H806.9ZM818.2 449.0H821.9V450.9H818.2ZM816.0 453.8H818.2V455.9H816.0ZM830.1 440.0H833.2V444.9H830.1ZM827.0 442.2H830.1V444.9H827.0ZM824.0 444.9H836.1V449.0H824.0ZM830.1 449.0H833.2V450.9H830.1ZM836.1 449.0H839.1V450.9H836.1ZM841.9 453.8H845.1V455.9H841.9ZM830.1 466.9H833.2V469.9H830.1ZM824.0 469.9H851.1V472.8H824.0ZM816.0 482.8H819.0V487.8H816.0ZM819.0 485.7H821.9V487.8H819.0ZM845.1 482.8H857.0V486.0H845.1ZM845.1 486.0H846.9V487.8H845.1ZM851.1 486.0H858.8V487.8H851.1ZM806.9 487.8H810.0V491.0H806.9ZM804.0 491.0H806.9V493.1H804.0ZM846.9 492.8H851.1V496.0H846.9ZM846.9 493.0H851.1V495.9H846.9ZM828.2 505.1H830.1V507.2H828.2ZM821.9 506.9H830.1V511.8H821.9ZM824.0 511.8H830.1V516.0H824.0ZM858.8 527.8H862.0V531.0H858.8ZM876.1 527.8H880.1V531.0H876.1ZM880.1 524.1H882.2V527.8H880.1ZM888.0 524.1H891.1V527.8H888.0Z"/>
<path fill="none" stroke="#000" stroke-width="0.85" stroke-linejoin="round" stroke-linecap="round" d="M472.3 460.3L476.3 462.2L481.9 463.4L485.0 466.6L488.8 469.1L493.2 470.3L495.0 472.8L495.7 476.6L496.9 478.5L502.5 479.7L507.5 481.6L511.3 484.1L513.8 486.6L514.1 490.3L511.9 492.8L510.1 496.0L508.8 500.4L507.5 505.4L505.7 509.1L501.3 511.0L498.2 514.1L496.9 519.1L494.4 524.1L491.3 528.5L488.8 529.1L486.3 527.9L487.5 530.4L488.1 534.8 M495.0 476.6L494.4 478.5L496.3 479.1 M472.5 450.3L475.0 451.5L477.5 451.5 M481.9 454.1L483.1 457.2 M545.1 420.3L550.1 421.5L552.6 422.1L548.8 423.4L547.0 425.9L545.1 429.0L542.6 432.8L540.1 435.9L537.6 438.4L535.7 442.8L534.5 447.2L535.1 451.5L534.5 456.6L535.7 460.3L538.2 464.1L540.7 466.6L543.8 469.7L546.3 471.3L551.4 469.7L556.4 468.8L560.1 468.4L562.0 470.9L564.5 471.8L565.7 474.1L565.1 477.8L567.0 481.6L568.9 485.3L570.1 490.3L570.1 495.4L568.9 500.4L570.1 505.4L572.0 510.4L573.3 515.4L575.1 520.4L576.4 525.4L577.6 528.5L581.4 527.9L587.0 526.6 M552.6 422.1L557.6 422.5L565.1 421.8L567.0 424.0L566.4 426.5L568.9 428.4L572.6 430.3L576.4 432.8L580.1 431.5L587.0 432.1 M570.1 421.5L572.6 422.8 M580.1 421.8L583.9 424.0L587.0 425.0 M580.0 429.0L585.0 431.5L590.0 432.8L592.5 432.1L595.0 429.0L596.9 425.3L596.3 421.5L592.5 420.9L587.5 421.8L582.5 420.9 M592.5 434.7L595.0 440.3L598.8 447.8L602.5 455.3L605.0 459.7L605.7 462.2L609.4 462.2L613.8 460.9L613.2 465.3L610.7 470.3L606.9 475.3L603.2 480.3L600.0 485.3L599.4 490.3L600.7 495.4L601.3 499.7L598.8 502.2L595.6 505.4L595.0 509.1L593.8 512.9L591.9 516.6L589.4 521.6L585.6 526.0L580.0 527.9 M593.8 434.0L596.9 439.7L600.7 447.2L604.4 454.7L606.3 458.4L610.0 457.8L616.3 454.7L621.3 450.3L624.4 445.9L623.2 442.8L620.7 440.9L617.5 442.2L614.4 440.9L612.5 437.2L610.7 434.7L611.9 433.4L614.4 435.9L616.3 439.0L620.1 439.0L622.6 440.3L627.6 440.9L632.6 441.5L635.7 445.3L638.8 446.5L640.1 451.5L642.0 456.6L643.8 461.6L645.1 465.3L647.0 464.1L648.2 457.8L650.1 453.4L655.1 449.0L658.2 446.5L661.4 445.9L663.2 448.4L665.7 452.8L667.6 454.1L669.5 458.4L670.1 464.1L672.6 469.1L675.1 472.8L677.0 476.6L678.9 480.3L680.1 479.1L676.4 472.8L673.2 466.6L671.4 462.8L672.0 459.1L675.1 460.9L678.9 463.4L681.4 460.3L682.0 456.6L679.5 452.8L678.9 449.7L681.4 447.2L685.1 445.9L690.1 443.4L693.9 439.0L695.8 434.0L695.1 429.0L693.9 425.3L697.0 421.5 M647.6 464.1L649.5 465.9L649.5 468.4L647.6 469.1L647.0 466.6Z M665.7 469.7L670.1 470.9L675.1 476.6L680.1 484.1L683.9 487.8L680.1 487.2L675.1 482.8L670.1 476.6L666.4 472.2Z M678.9 485.3L686.4 487.8L697.0 489.7 M682.0 475.3L687.6 470.9L692.0 468.4L693.9 472.8L692.6 477.8L688.9 481.6L684.5 480.3L682.6 477.2Z M681.4 449.0L683.3 449.0L683.3 451.5L681.4 451.5Z M606.3 502.2L608.8 497.9L611.9 494.1L613.8 496.0L613.5 501.6L611.9 507.9L610.0 512.2L606.9 513.5L605.7 509.1Z M591.3 477.8L593.8 477.2L594.4 479.7L591.9 480.3Z M588.1 482.2L589.4 486.6L590.0 489.1 M594.4 491.0L595.6 497.2 M611.3 420.3L613.2 422.8L616.9 422.8L617.5 420.3 M580.0 421.8L583.8 422.8L586.3 421.8 M697.0 504.7L691.4 506.6L687.6 509.1L687.0 514.1L688.9 520.4L690.1 527.9L692.6 529.1L697.0 527.3 M690.0 445.3L693.1 442.8L695.6 437.8L696.9 432.8L695.6 427.8L693.8 424.6L691.3 422.8L693.8 421.5L696.3 420.3 M701.9 420.3L703.1 423.4L705.0 422.8L705.6 420.3 M706.3 430.3L707.5 426.5L711.3 424.6L715.0 422.8L718.8 420.9L720.0 422.1L716.9 425.3L712.5 427.1L708.8 429.0L706.9 431.5Z M695.0 442.8L696.3 444.0L695.6 445.9Z M695.0 451.5L697.5 452.8L698.1 457.8L699.4 461.6L701.9 463.4L702.5 467.8L700.6 469.1L698.8 466.6L696.9 462.8L695.6 457.8L694.4 454.1Z M696.9 456.6L698.8 460.3L700.6 465.3 M690.0 467.8L692.5 470.3L693.8 472.8 M693.8 476.6L696.3 476.0L698.8 477.8L696.9 479.7L695.6 484.1L694.4 481.6Z M701.3 481.6L705.0 482.2L710.0 482.8 M703.1 475.3L704.4 477.8 M707.5 478.5L711.3 479.1L715.0 479.7L720.0 481.6L725.0 484.1L730.1 483.5L733.2 482.2L731.3 485.3L727.5 486.6L728.8 490.3L730.7 492.2L726.3 490.3L722.5 487.8L718.8 489.1L715.0 486.6L711.3 484.1L708.8 481.6Z M734.4 485.3L737.6 487.2 M739.4 488.5L741.3 489.1L743.8 492.2 M690.0 489.1L696.3 489.7L702.5 488.5 M690.0 505.4L695.0 504.1L698.1 501.0L702.5 497.2L705.6 496.6L706.9 493.5L710.0 494.1L713.8 494.7L715.0 499.1L717.5 501.0L720.0 496.6L720.7 492.2L722.5 494.1L723.8 499.1L726.3 504.1L730.1 509.1L732.6 512.9L733.8 517.9L733.2 522.9L731.3 527.9L730.1 531.6L728.8 534.8 M690.0 529.1L695.0 527.9L700.0 524.8L705.0 523.5L710.0 524.1L713.2 526.6L715.0 529.1L716.9 531.6L718.8 534.8 M787.6 445.9L791.4 447.2L793.3 450.3 M748.8 497.9L750.7 500.4 M761.3 502.2L764.5 500.4 M772.6 496.0L775.1 497.2 M746.3 506.0L749.4 508.5 M756.3 528.5L758.8 531.6L762.0 533.5 M831.3 420.3L833.2 424.0L836.3 427.8L839.4 431.5L842.6 435.3L846.3 439.0L850.1 443.4L852.0 447.8L852.6 450.3L856.3 452.2L861.3 454.1L866.3 455.9L871.4 459.1L875.1 462.2L877.6 464.7L880.1 466.6L883.2 464.7L885.1 465.3L883.9 469.1L883.2 472.8L881.4 476.6L880.1 482.2L881.4 486.6L883.2 490.3L885.1 494.1L887.0 497.9L890.1 499.7L893.3 502.2L892.6 510.4L891.4 520.4L890.1 529.1L888.2 534.8 M839.4 432.1L841.3 431.5L843.8 435.3L846.3 440.3L847.6 444.0L845.7 444.0L843.2 439.7L840.7 435.3Z M886.4 420.3L887.0 424.6L883.2 427.8L880.1 430.9L879.5 434.0L880.1 437.8L882.0 440.9L880.1 439.7L877.6 435.3L876.4 433.4L871.4 432.8L865.1 434.0L862.6 435.9L860.7 440.3L860.1 445.3L861.3 449.0L865.1 451.5L868.8 450.3L871.4 447.2L873.2 446.5L872.6 450.3L871.4 452.8L872.0 455.3L876.4 457.2L877.6 460.9L879.5 464.1L881.4 466.6 M885.1 465.3L888.9 462.8L892.0 460.3L893.6 460.3 M876.4 445.3L880.1 444.7L885.1 445.9L888.9 447.8L892.0 449.0L888.9 449.0L883.9 447.5L878.9 446.5Z M883.9 451.5L888.9 450.9L893.3 451.5 M883.2 440.9L885.1 443.4 M695.3 476.8L699.1 476.0 M696.6 479.0L697.6 484.0 M700.3 477.8L702.8 479.0 M704.1 475.3L705.3 478.4 M706.6 477.8L710.3 480.9 M709.1 486.8L711.6 485.3 M699.1 489.3L702.8 487.8 M713.5 484.7L716.0 485.9 M694.7 480.9L695.9 484.7 M697.8 465.9L699.7 461.5L701.6 463.4L700.9 466.5 M697.2 457.8L699.7 459.6"/><circle cx="570.8" cy="458.4" r="0.9" fill="#000"/><circle cx="616.9" cy="460.3" r="0.6" fill="#000"/><circle cx="662.6" cy="459.7" r="0.6" fill="#000"/><circle cx="619.4" cy="507.2" r="0.6" fill="#000"/><circle cx="621.9" cy="506.0" r="0.6" fill="#000"/><circle cx="703.8" cy="439.0" r="0.6" fill="#000"/><circle cx="800.1" cy="502.2" r="0.6" fill="#000"/><circle cx="868.2" cy="477.8" r="0.8" fill="#000"/></g></g>
<rect x="44.5" y="216.5" width="420" height="113.5" fill="none" stroke="#000" stroke-opacity="0.9" stroke-width="0.8"/>
<rect x="473.5" y="216.5" width="420" height="113.5" fill="none" stroke="#000" stroke-opacity="0.9" stroke-width="0.8"/>
<rect x="44.5" y="420.5" width="420" height="113.5" fill="none" stroke="#000" stroke-opacity="0.9" stroke-width="0.8"/>
<rect x="473.5" y="420.5" width="420" height="113.5" fill="none" stroke="#000" stroke-opacity="0.9" stroke-width="0.8"/>
<text class="hl" x="43.4" y="214.7" style="font-size:12.2px" textLength="44.2" lengthAdjust="spacingAndGlyphs">Surface</text><text class="hl" x="98.2" y="214.7" style="font-size:12.2px" textLength="19.3" lengthAdjust="spacingAndGlyphs">net</text><text class="hl" x="124.1" y="214.7" style="font-size:12.2px" textLength="16.5" lengthAdjust="spacingAndGlyphs">SW</text><text class="hl" x="148.1" y="214.7" style="font-size:12.2px" textLength="21.2" lengthAdjust="spacingAndGlyphs">flux</text><text class="hl" x="206.9" y="214.7" style="font-size:12.2px" textLength="42.8" lengthAdjust="spacingAndGlyphs">mean=</text><text class="hl" x="259.2" y="214.7" style="font-size:12.2px" textLength="41.1" lengthAdjust="spacingAndGlyphs">191.74</text>
<text class="hl" x="430.4" y="212.1" style="font-size:13px" xml:space="preserve">W/m<tspan dy="-4.6" style="font-size:8.5px">2</tspan></text>
<text class="hl" x="167.5" y="347" style="font-size:11.5px" textLength="18.0" lengthAdjust="spacingAndGlyphs">Min</text><text class="hl" x="193.8" y="347" style="font-size:11.5px" textLength="7.4" lengthAdjust="spacingAndGlyphs">=</text><text class="hl" x="215.1" y="347" style="font-size:11.5px" textLength="33.1" lengthAdjust="spacingAndGlyphs">67.18</text><text class="hl" x="256.0" y="347" style="font-size:11.5px" textLength="20.9" lengthAdjust="spacingAndGlyphs">Max</text><text class="hl" x="285.9" y="347" style="font-size:11.5px" textLength="6.7" lengthAdjust="spacingAndGlyphs">=</text><text class="hl" x="300.5" y="347" style="font-size:11.5px" textLength="40.4" lengthAdjust="spacingAndGlyphs">319.32</text>
<text class="hl" x="472.4" y="214.7" style="font-size:12.2px" textLength="44.2" lengthAdjust="spacingAndGlyphs">Surface</text><text class="hl" x="527.2" y="214.7" style="font-size:12.2px" textLength="19.3" lengthAdjust="spacingAndGlyphs">net</text><text class="hl" x="553.1" y="214.7" style="font-size:12.2px" textLength="16.5" lengthAdjust="spacingAndGlyphs">SW</text><text class="hl" x="577.1" y="214.7" style="font-size:12.2px" textLength="21.2" lengthAdjust="spacingAndGlyphs">flux</text><text class="hl" x="635.9" y="214.7" style="font-size:12.2px" textLength="42.8" lengthAdjust="spacingAndGlyphs">mean=</text><text class="hl" x="688.2" y="214.7" style="font-size:12.2px" textLength="41.1" lengthAdjust="spacingAndGlyphs">192.58</text>
<text class="hl" x="859.4" y="212.1" style="font-size:13px" xml:space="preserve">W/m<tspan dy="-4.6" style="font-size:8.5px">2</tspan></text>
<text class="hl" x="596.5" y="347" style="font-size:11.5px" textLength="18.0" lengthAdjust="spacingAndGlyphs">Min</text><text class="hl" x="622.8" y="347" style="font-size:11.5px" textLength="7.4" lengthAdjust="spacingAndGlyphs">=</text><text class="hl" x="644.1" y="347" style="font-size:11.5px" textLength="33.1" lengthAdjust="spacingAndGlyphs">64.04</text><text class="hl" x="685.0" y="347" style="font-size:11.5px" textLength="20.9" lengthAdjust="spacingAndGlyphs">Max</text><text class="hl" x="714.9" y="347" style="font-size:11.5px" textLength="6.7" lengthAdjust="spacingAndGlyphs">=</text><text class="hl" x="729.5" y="347" style="font-size:11.5px" textLength="40.4" lengthAdjust="spacingAndGlyphs">322.29</text>
<text class="hl" x="430.4" y="416.1" style="font-size:13px" xml:space="preserve">W/m<tspan dy="-4.6" style="font-size:8.5px">2</tspan></text>
<text class="hl" x="43.5" y="419" style="font-size:12.2px" textLength="32.3" lengthAdjust="spacingAndGlyphs">mean</text><text class="hl" x="83.9" y="419" style="font-size:12.2px" textLength="8.4" lengthAdjust="spacingAndGlyphs">=</text><text class="hl" x="107.9" y="419" style="font-size:12.2px" textLength="36.5" lengthAdjust="spacingAndGlyphs">−0.85</text><text class="hl" x="207.3" y="419" style="font-size:12.2px" textLength="30.0" lengthAdjust="spacingAndGlyphs">rmse</text><text class="hl" x="245.0" y="419" style="font-size:12.2px" textLength="8.4" lengthAdjust="spacingAndGlyphs">=</text><text class="hl" x="274.7" y="419" style="font-size:12.2px" textLength="26.3" lengthAdjust="spacingAndGlyphs">4.18</text>
<text class="hl" x="167.5" y="551" style="font-size:11.5px" textLength="18.0" lengthAdjust="spacingAndGlyphs">Min</text><text class="hl" x="193.8" y="551" style="font-size:11.5px" textLength="7.4" lengthAdjust="spacingAndGlyphs">=</text><text class="hl" x="208.5" y="551" style="font-size:11.5px" textLength="39.7" lengthAdjust="spacingAndGlyphs">−22.37</text><text class="hl" x="256.0" y="551" style="font-size:11.5px" textLength="20.9" lengthAdjust="spacingAndGlyphs">Max</text><text class="hl" x="285.9" y="551" style="font-size:11.5px" textLength="6.7" lengthAdjust="spacingAndGlyphs">=</text><text class="hl" x="307.2" y="551" style="font-size:11.5px" textLength="33.7" lengthAdjust="spacingAndGlyphs">17.49</text>
<text class="hl" x="538.3" y="416.5" style="font-size:12.2px" textLength="46.4" lengthAdjust="spacingAndGlyphs">Colored</text><text class="hl" x="596.3" y="416.5" style="font-size:12.2px" textLength="24.9" lengthAdjust="spacingAndGlyphs">cells</text><text class="hl" x="626.2" y="416.5" style="font-size:12.2px" textLength="18.2" lengthAdjust="spacingAndGlyphs">are</text><text class="hl" x="652.7" y="416.5" style="font-size:12.2px" textLength="62.3" lengthAdjust="spacingAndGlyphs">significant</text><text class="hl" x="722.3" y="416.5" style="font-size:12.2px" textLength="10.0" lengthAdjust="spacingAndGlyphs">at</text><text class="hl" x="740.5" y="416.5" style="font-size:12.2px" textLength="18.3" lengthAdjust="spacingAndGlyphs">the</text><text class="hl" x="767.1" y="416.5" style="font-size:12.2px" textLength="26.5" lengthAdjust="spacingAndGlyphs">0.05</text><text class="hl" x="801.9" y="416.5" style="font-size:12.2px" textLength="26.5" lengthAdjust="spacingAndGlyphs">level</text>
<rect x="56.00" y="350.3" width="24.78" height="10" fill="#9370db" stroke="#000" stroke-width="0.7"/>
<rect x="80.78" y="350.3" width="24.78" height="10" fill="#0000c8" stroke="#000" stroke-width="0.7"/>
<rect x="105.56" y="350.3" width="24.78" height="10" fill="#4169e1" stroke="#000" stroke-width="0.7"/>
<rect x="130.34" y="350.3" width="24.78" height="10" fill="#7396f0" stroke="#000" stroke-width="0.7"/>
<rect x="155.12" y="350.3" width="24.78" height="10" fill="#b0e0e6" stroke="#000" stroke-width="0.7"/>
<rect x="179.91" y="350.3" width="24.78" height="10" fill="#20b2aa" stroke="#000" stroke-width="0.7"/>
<rect x="204.69" y="350.3" width="24.78" height="10" fill="#beeb5f" stroke="#000" stroke-width="0.7"/>
<rect x="229.47" y="350.3" width="24.78" height="10" fill="#96be32" stroke="#000" stroke-width="0.7"/>
<rect x="254.25" y="350.3" width="24.78" height="10" fill="#f5e6be" stroke="#000" stroke-width="0.7"/>
<rect x="279.03" y="350.3" width="24.78" height="10" fill="#deb887" stroke="#000" stroke-width="0.7"/>
<rect x="303.81" y="350.3" width="24.78" height="10" fill="#ffe100" stroke="#000" stroke-width="0.7"/>
<rect x="328.59" y="350.3" width="24.78" height="10" fill="#ffa500" stroke="#000" stroke-width="0.7"/>
<rect x="353.38" y="350.3" width="24.78" height="10" fill="#ff4500" stroke="#000" stroke-width="0.7"/>
<rect x="378.16" y="350.3" width="24.78" height="10" fill="#b22222" stroke="#000" stroke-width="0.7"/>
<rect x="402.94" y="350.3" width="24.78" height="10" fill="#ffb6c1" stroke="#000" stroke-width="0.7"/>
<rect x="427.72" y="350.3" width="24.78" height="10" fill="#ff1493" stroke="#000" stroke-width="0.7"/>
<text class="hl" x="80.78" y="371.1" text-anchor="middle">25</text>
<text class="hl" x="105.56" y="371.1" text-anchor="middle">50</text>
<text class="hl" x="130.34" y="371.1" text-anchor="middle">75</text>
<text class="hl" x="155.12" y="371.1" text-anchor="middle">100</text>
<text class="hl" x="179.91" y="371.1" text-anchor="middle">125</text>
<text class="hl" x="204.69" y="371.1" text-anchor="middle">150</text>
<text class="hl" x="229.47" y="371.1" text-anchor="middle">175</text>
<text class="hl" x="254.25" y="371.1" text-anchor="middle">200</text>
<text class="hl" x="279.03" y="371.1" text-anchor="middle">220</text>
<text class="hl" x="303.81" y="371.1" text-anchor="middle">240</text>
<text class="hl" x="328.59" y="371.1" text-anchor="middle">260</text>
<text class="hl" x="353.38" y="371.1" text-anchor="middle">280</text>
<text class="hl" x="378.16" y="371.1" text-anchor="middle">300</text>
<text class="hl" x="402.94" y="371.1" text-anchor="middle">320</text>
<text class="hl" x="427.72" y="371.1" text-anchor="middle">340</text>
<rect x="485.00" y="350.3" width="24.78" height="10" fill="#9370db" stroke="#000" stroke-width="0.7"/>
<rect x="509.78" y="350.3" width="24.78" height="10" fill="#0000c8" stroke="#000" stroke-width="0.7"/>
<rect x="534.56" y="350.3" width="24.78" height="10" fill="#4169e1" stroke="#000" stroke-width="0.7"/>
<rect x="559.34" y="350.3" width="24.78" height="10" fill="#7396f0" stroke="#000" stroke-width="0.7"/>
<rect x="584.12" y="350.3" width="24.78" height="10" fill="#b0e0e6" stroke="#000" stroke-width="0.7"/>
<rect x="608.91" y="350.3" width="24.78" height="10" fill="#20b2aa" stroke="#000" stroke-width="0.7"/>
<rect x="633.69" y="350.3" width="24.78" height="10" fill="#beeb5f" stroke="#000" stroke-width="0.7"/>
<rect x="658.47" y="350.3" width="24.78" height="10" fill="#96be32" stroke="#000" stroke-width="0.7"/>
<rect x="683.25" y="350.3" width="24.78" height="10" fill="#f5e6be" stroke="#000" stroke-width="0.7"/>
<rect x="708.03" y="350.3" width="24.78" height="10" fill="#deb887" stroke="#000" stroke-width="0.7"/>
<rect x="732.81" y="350.3" width="24.78" height="10" fill="#ffe100" stroke="#000" stroke-width="0.7"/>
<rect x="757.59" y="350.3" width="24.78" height="10" fill="#ffa500" stroke="#000" stroke-width="0.7"/>
<rect x="782.38" y="350.3" width="24.78" height="10" fill="#ff4500" stroke="#000" stroke-width="0.7"/>
<rect x="807.16" y="350.3" width="24.78" height="10" fill="#b22222" stroke="#000" stroke-width="0.7"/>
<rect x="831.94" y="350.3" width="24.78" height="10" fill="#ffb6c1" stroke="#000" stroke-width="0.7"/>
<rect x="856.72" y="350.3" width="24.78" height="10" fill="#ff1493" stroke="#000" stroke-width="0.7"/>
<text class="hl" x="509.78" y="371.1" text-anchor="middle">25</text>
<text class="hl" x="534.56" y="371.1" text-anchor="middle">50</text>
<text class="hl" x="559.34" y="371.1" text-anchor="middle">75</text>
<text class="hl" x="584.12" y="371.1" text-anchor="middle">100</text>
<text class="hl" x="608.91" y="371.1" text-anchor="middle">125</text>
<text class="hl" x="633.69" y="371.1" text-anchor="middle">150</text>
<text class="hl" x="658.47" y="371.1" text-anchor="middle">175</text>
<text class="hl" x="683.25" y="371.1" text-anchor="middle">200</text>
<text class="hl" x="708.03" y="371.1" text-anchor="middle">220</text>
<text class="hl" x="732.81" y="371.1" text-anchor="middle">240</text>
<text class="hl" x="757.59" y="371.1" text-anchor="middle">260</text>
<text class="hl" x="782.38" y="371.1" text-anchor="middle">280</text>
<text class="hl" x="807.16" y="371.1" text-anchor="middle">300</text>
<text class="hl" x="831.94" y="371.1" text-anchor="middle">320</text>
<text class="hl" x="856.72" y="371.1" text-anchor="middle">340</text>
<rect x="56.00" y="554.3" width="24.78" height="10" fill="#9370db" stroke="#000" stroke-width="0.7"/>
<rect x="80.78" y="554.3" width="24.78" height="10" fill="#0000c8" stroke="#000" stroke-width="0.7"/>
<rect x="105.56" y="554.3" width="24.78" height="10" fill="#4169e1" stroke="#000" stroke-width="0.7"/>
<rect x="130.34" y="554.3" width="24.78" height="10" fill="#7396f0" stroke="#000" stroke-width="0.7"/>
<rect x="155.12" y="554.3" width="24.78" height="10" fill="#b0e0e6" stroke="#000" stroke-width="0.7"/>
<rect x="179.91" y="554.3" width="24.78" height="10" fill="#20b2aa" stroke="#000" stroke-width="0.7"/>
<rect x="204.69" y="554.3" width="24.78" height="10" fill="#beeb5f" stroke="#000" stroke-width="0.7"/>
<rect x="229.47" y="554.3" width="24.78" height="10" fill="#96be32" stroke="#000" stroke-width="0.7"/>
<rect x="254.25" y="554.3" width="24.78" height="10" fill="#f5e6be" stroke="#000" stroke-width="0.7"/>
<rect x="279.03" y="554.3" width="24.78" height="10" fill="#deb887" stroke="#000" stroke-width="0.7"/>
<rect x="303.81" y="554.3" width="24.78" height="10" fill="#ffe100" stroke="#000" stroke-width="0.7"/>
<rect x="328.59" y="554.3" width="24.78" height="10" fill="#ffa500" stroke="#000" stroke-width="0.7"/>
<rect x="353.38" y="554.3" width="24.78" height="10" fill="#ff4500" stroke="#000" stroke-width="0.7"/>
<rect x="378.16" y="554.3" width="24.78" height="10" fill="#b22222" stroke="#000" stroke-width="0.7"/>
<rect x="402.94" y="554.3" width="24.78" height="10" fill="#ffb6c1" stroke="#000" stroke-width="0.7"/>
<rect x="427.72" y="554.3" width="24.78" height="10" fill="#ff1493" stroke="#000" stroke-width="0.7"/>
<text class="hl" x="80.78" y="575.0999999999999" text-anchor="middle">−100</text>
<text class="hl" x="105.56" y="575.0999999999999" text-anchor="middle">−80</text>
<text class="hl" x="130.34" y="575.0999999999999" text-anchor="middle">−60</text>
<text class="hl" x="155.12" y="575.0999999999999" text-anchor="middle">−40</text>
<text class="hl" x="179.91" y="575.0999999999999" text-anchor="middle">−30</text>
<text class="hl" x="204.69" y="575.0999999999999" text-anchor="middle">−20</text>
<text class="hl" x="229.47" y="575.0999999999999" text-anchor="middle">−10</text>
<text class="hl" x="254.25" y="575.0999999999999" text-anchor="middle">0</text>
<text class="hl" x="279.03" y="575.0999999999999" text-anchor="middle">10</text>
<text class="hl" x="303.81" y="575.0999999999999" text-anchor="middle">20</text>
<text class="hl" x="328.59" y="575.0999999999999" text-anchor="middle">30</text>
<text class="hl" x="353.38" y="575.0999999999999" text-anchor="middle">40</text>
<text class="hl" x="378.16" y="575.0999999999999" text-anchor="middle">60</text>
<text class="hl" x="402.94" y="575.0999999999999" text-anchor="middle">80</text>
<text class="hl" x="427.72" y="575.0999999999999" text-anchor="middle">100</text>
</svg></body></html>
